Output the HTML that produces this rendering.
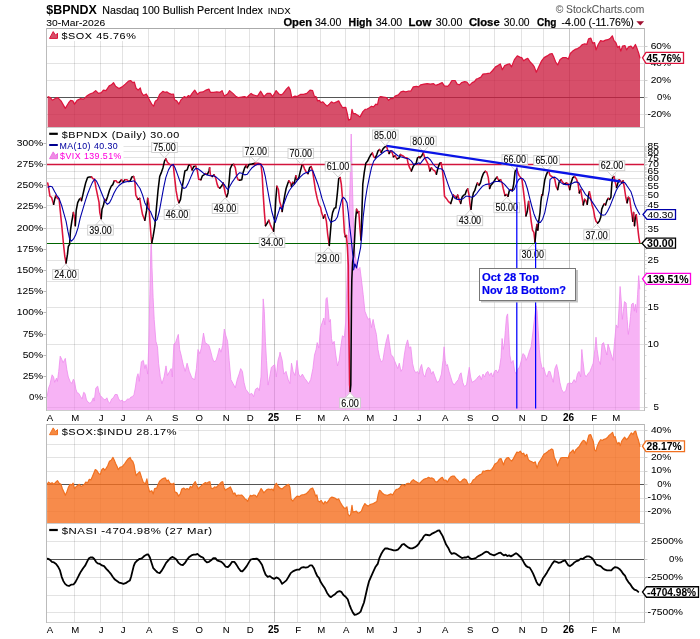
<!DOCTYPE html>
<html><head><meta charset="utf-8"><title>$BPNDX</title>
<style>html,body{margin:0;padding:0;background:#fff}svg{display:block;will-change:transform}</style></head>
<body>
<svg width="700" height="639" viewBox="0 0 700 639" font-family="Liberation Sans, sans-serif">
<rect width="700" height="639" fill="#fff"/>
<text x="46.3" y="14.3" font-size="13.6" font-weight="bold" textLength="50.6" lengthAdjust="spacingAndGlyphs">$BPNDX</text>
<text x="102.3" y="14.3" font-size="11" font-weight="normal" fill="#000" stroke="#000" stroke-width="0.12" text-anchor="start" textLength="160.6" lengthAdjust="spacingAndGlyphs" >Nasdaq 100 Bullish Percent Index</text>
<text x="267.7" y="14.3" font-size="8.5" font-weight="normal" fill="#000" stroke="#000" stroke-width="0.04" text-anchor="start" textLength="23" lengthAdjust="spacingAndGlyphs" >INDX</text>
<text x="555.7" y="13" font-size="10.5" font-weight="normal" fill="#555" stroke="#555" stroke-width="0.04" text-anchor="start" textLength="88.7" lengthAdjust="spacingAndGlyphs" >© StockCharts.com</text>
<text x="46.3" y="25.7" font-size="9.7" font-weight="normal" fill="#000" stroke="#000" stroke-width="0.04" text-anchor="start" textLength="58.9" lengthAdjust="spacingAndGlyphs" >30-Mar-2026</text>
<text x="283.4" y="25.7" font-size="10.2" font-weight="bold" fill="#000" stroke="#000" stroke-width="0.25" text-anchor="start" textLength="28.6" lengthAdjust="spacingAndGlyphs" >Open</text>
<text x="314.9" y="25.7" font-size="10" font-weight="normal" fill="#000" stroke="#000" stroke-width="0.12" text-anchor="start" textLength="26.5" lengthAdjust="spacingAndGlyphs" >34.00</text>
<text x="348.6" y="25.7" font-size="10.2" font-weight="bold" fill="#000" stroke="#000" stroke-width="0.25" text-anchor="start" textLength="23.4" lengthAdjust="spacingAndGlyphs" >High</text>
<text x="375.7" y="25.7" font-size="10" font-weight="normal" fill="#000" stroke="#000" stroke-width="0.12" text-anchor="start" textLength="26.6" lengthAdjust="spacingAndGlyphs" >34.00</text>
<text x="408.6" y="25.7" font-size="10.2" font-weight="bold" fill="#000" stroke="#000" stroke-width="0.25" text-anchor="start" textLength="22.8" lengthAdjust="spacingAndGlyphs" >Low</text>
<text x="435.8" y="25.7" font-size="10" font-weight="normal" fill="#000" stroke="#000" stroke-width="0.12" text-anchor="start" textLength="26.6" lengthAdjust="spacingAndGlyphs" >30.00</text>
<text x="468.9" y="25.7" font-size="10.2" font-weight="bold" fill="#000" stroke="#000" stroke-width="0.25" text-anchor="start" textLength="30.8" lengthAdjust="spacingAndGlyphs" >Close</text>
<text x="503.8" y="25.7" font-size="10" font-weight="normal" fill="#000" stroke="#000" stroke-width="0.12" text-anchor="start" textLength="25.8" lengthAdjust="spacingAndGlyphs" >30.00</text>
<text x="536.9" y="25.7" font-size="10.2" font-weight="bold" fill="#000" stroke="#000" stroke-width="0.25" text-anchor="start" textLength="19.5" lengthAdjust="spacingAndGlyphs" >Chg</text>
<text x="561.6" y="25.7" font-size="10" font-weight="normal" fill="#000" stroke="#000" stroke-width="0.12" text-anchor="start" textLength="72.2" lengthAdjust="spacingAndGlyphs" >-4.00 (-11.76%)</text>
<polygon points="636.4,21.2 644.1,21.2 640.25,25.4" fill="#a01030"/>
<line x1="74.5" y1="28.5" x2="74.5" y2="127.5" stroke="rgba(0,0,0,0.11)" stroke-width="1"/>
<line x1="100.5" y1="28.5" x2="100.5" y2="127.5" stroke="rgba(0,0,0,0.11)" stroke-width="1"/>
<line x1="122.5" y1="28.5" x2="122.5" y2="127.5" stroke="rgba(0,0,0,0.11)" stroke-width="1"/>
<line x1="148.5" y1="28.5" x2="148.5" y2="127.5" stroke="rgba(0,0,0,0.11)" stroke-width="1"/>
<line x1="174.5" y1="28.5" x2="174.5" y2="127.5" stroke="rgba(0,0,0,0.11)" stroke-width="1"/>
<line x1="198.5" y1="28.5" x2="198.5" y2="127.5" stroke="rgba(0,0,0,0.11)" stroke-width="1"/>
<line x1="225.5" y1="28.5" x2="225.5" y2="127.5" stroke="rgba(0,0,0,0.11)" stroke-width="1"/>
<line x1="249.5" y1="28.5" x2="249.5" y2="127.5" stroke="rgba(0,0,0,0.11)" stroke-width="1"/>
<line x1="274.5" y1="28.5" x2="274.5" y2="127.5" stroke="rgba(0,0,0,0.22)" stroke-width="1"/>
<line x1="297.5" y1="28.5" x2="297.5" y2="127.5" stroke="rgba(0,0,0,0.11)" stroke-width="1"/>
<line x1="320.5" y1="28.5" x2="320.5" y2="127.5" stroke="rgba(0,0,0,0.11)" stroke-width="1"/>
<line x1="345.5" y1="28.5" x2="345.5" y2="127.5" stroke="rgba(0,0,0,0.11)" stroke-width="1"/>
<line x1="369.5" y1="28.5" x2="369.5" y2="127.5" stroke="rgba(0,0,0,0.11)" stroke-width="1"/>
<line x1="394.5" y1="28.5" x2="394.5" y2="127.5" stroke="rgba(0,0,0,0.11)" stroke-width="1"/>
<line x1="418.5" y1="28.5" x2="418.5" y2="127.5" stroke="rgba(0,0,0,0.11)" stroke-width="1"/>
<line x1="444.5" y1="28.5" x2="444.5" y2="127.5" stroke="rgba(0,0,0,0.11)" stroke-width="1"/>
<line x1="469.5" y1="28.5" x2="469.5" y2="127.5" stroke="rgba(0,0,0,0.11)" stroke-width="1"/>
<line x1="494.5" y1="28.5" x2="494.5" y2="127.5" stroke="rgba(0,0,0,0.11)" stroke-width="1"/>
<line x1="521.5" y1="28.5" x2="521.5" y2="127.5" stroke="rgba(0,0,0,0.11)" stroke-width="1"/>
<line x1="543.5" y1="28.5" x2="543.5" y2="127.5" stroke="rgba(0,0,0,0.11)" stroke-width="1"/>
<line x1="569.5" y1="28.5" x2="569.5" y2="127.5" stroke="rgba(0,0,0,0.22)" stroke-width="1"/>
<line x1="593.5" y1="28.5" x2="593.5" y2="127.5" stroke="rgba(0,0,0,0.11)" stroke-width="1"/>
<line x1="615.5" y1="28.5" x2="615.5" y2="127.5" stroke="rgba(0,0,0,0.11)" stroke-width="1"/>
<line x1="46.5" y1="46.5" x2="644.5" y2="46.5" stroke="rgba(0,0,0,0.11)" stroke-width="1"/>
<line x1="46.5" y1="63.5" x2="644.5" y2="63.5" stroke="rgba(0,0,0,0.11)" stroke-width="1"/>
<line x1="46.5" y1="80.5" x2="644.5" y2="80.5" stroke="rgba(0,0,0,0.11)" stroke-width="1"/>
<line x1="46.5" y1="114.5" x2="644.5" y2="114.5" stroke="rgba(0,0,0,0.11)" stroke-width="1"/>
<line x1="46.5" y1="97.5" x2="646.5" y2="97.5" stroke="#555" stroke-width="1"/>
<polygon points="47.7,127.0 47.7,96.6 50.3,97.6 52.4,100.2 55.6,98.3 57.8,97.6 61.0,100.9 65.3,108.4 68.5,103.0 70.6,100.4 72.8,100.9 74.5,104.1 77.1,100.4 80.3,98.7 83.5,99.1 86.7,96.1 89.9,94.0 93.1,92.7 95.7,90.6 98.5,93.4 101.3,92.7 103.4,90.1 106.0,90.6 109.2,85.9 111.4,84.8 113.5,82.6 115.6,86.3 118.9,88.6 122.1,86.9 125.3,84.1 128.5,81.1 130.6,80.5 132.8,82.6 134.3,82.0 136.0,88.0 138.1,90.1 140.3,88.0 141.4,92.3 143.5,95.5 146.3,94.0 147.8,96.6 149.9,100.9 152.1,104.7 153.6,106.2 155.3,101.3 157.4,99.8 159.6,94.4 162.8,91.4 164.9,92.3 167.1,91.9 169.2,93.4 171.4,94.4 173.5,94.0 174.6,99.8 176.7,100.9 178.9,104.1 181.0,99.8 184.2,96.6 186.4,97.6 188.5,95.5 190.0,96.6 192.1,93.4 194.7,90.1 197.5,94.4 199.6,92.3 202.9,91.9 206.1,90.1 208.9,89.1 210.4,92.3 213.6,92.3 216.8,91.9 220.0,92.3 222.1,90.6 224.3,96.1 227.5,94.0 229.6,90.6 232.9,93.4 236.1,96.6 238.2,97.6 241.4,97.0 244.6,96.6 246.8,97.6 248.9,95.5 251.1,93.4 253.2,94.9 255.4,95.5 257.5,96.1 260.7,91.2 263.9,96.6 267.1,93.4 270.4,93.4 272.5,96.6 274.6,93.4 276.1,90.6 278.9,94.0 281.1,94.9 283.2,93.4 286.4,89.1 288.6,86.9 290.3,90.1 291.8,97.6 295.0,96.1 297.1,96.6 300.4,94.4 303.6,94.4 306.8,93.4 310.0,90.1 312.6,90.6 314.3,96.1 316.4,97.0 317.5,100.9 319.6,100.4 320.7,102.6 322.9,101.9 325.0,104.1 327.1,106.2 329.3,104.1 331.4,101.9 333.6,103.0 334.0,103.0 336.6,101.9 338.7,100.9 340.4,104.1 342.6,107.7 345.8,107.3 347.3,113.7 348.6,120.1 350.7,119.1 352.0,109.4 353.3,113.7 355.4,113.7 358.0,115.4 360.1,116.9 362.9,111.6 365.1,109.4 367.2,109.0 369.4,107.7 371.5,106.2 373.6,106.9 375.8,104.1 377.5,104.7 379.0,97.6 380.7,96.6 383.3,97.0 386.5,97.6 388.6,100.4 390.8,98.3 392.9,98.7 395.1,96.1 398.3,94.9 400.9,91.9 403.6,91.2 405.8,91.9 407.9,91.2 410.7,91.2 413.3,86.9 416.5,86.3 418.6,86.9 420.8,84.8 424.0,84.1 427.2,83.7 430.4,84.1 433.6,83.7 435.8,85.4 439.0,84.1 442.2,82.6 444.4,85.9 447.6,86.3 449.7,84.1 451.9,80.5 455.1,80.5 457.2,84.1 459.4,84.8 461.5,82.6 464.7,81.6 466.9,82.0 469.4,85.4 472.2,82.6 474.4,81.6 476.5,79.0 478.0,78.5 480.9,77.1 482.9,74.1 486.5,73.7 490.1,73.2 492.6,70.5 495.5,66.9 497.9,65.6 500.3,63.9 502.3,69.8 504.7,65.6 507.6,64.4 509.6,63.9 511.5,66.9 514.4,59.6 517.3,55.9 519.8,57.1 521.7,57.6 523.7,60.8 526.1,59.1 527.8,58.4 530.2,62.0 532.6,64.4 534.3,66.9 536.3,72.2 538.7,66.9 541.6,60.8 544.1,57.6 547.2,55.9 549.6,54.2 552.1,53.5 553.8,57.1 555.7,62.0 557.7,64.9 560.1,59.6 563.0,57.6 565.9,57.6 568.3,59.1 570.3,53.5 572.7,51.1 575.1,49.4 577.6,48.6 580.0,46.9 582.4,44.5 584.9,43.8 586.8,44.5 588.5,38.9 590.9,38.2 592.6,43.1 594.6,42.6 596.0,49.9 598.2,44.5 600.6,40.6 603.1,41.4 605.5,40.1 607.9,39.7 610.4,38.2 612.3,35.8 614.0,40.6 615.9,42.6 617.6,47.4 619.3,46.2 620.8,51.1 622.5,46.2 624.9,45.5 626.6,49.9 628.6,46.9 631.0,46.2 632.9,48.6 635.4,44.5 637.1,48.6 638.8,53.5 640.0,58.4 640.0,127.0" fill="rgba(204,30,64,0.78)" stroke="none"/>
<polyline points="47.7,96.6 50.3,97.6 52.4,100.2 55.6,98.3 57.8,97.6 61.0,100.9 65.3,108.4 68.5,103.0 70.6,100.4 72.8,100.9 74.5,104.1 77.1,100.4 80.3,98.7 83.5,99.1 86.7,96.1 89.9,94.0 93.1,92.7 95.7,90.6 98.5,93.4 101.3,92.7 103.4,90.1 106.0,90.6 109.2,85.9 111.4,84.8 113.5,82.6 115.6,86.3 118.9,88.6 122.1,86.9 125.3,84.1 128.5,81.1 130.6,80.5 132.8,82.6 134.3,82.0 136.0,88.0 138.1,90.1 140.3,88.0 141.4,92.3 143.5,95.5 146.3,94.0 147.8,96.6 149.9,100.9 152.1,104.7 153.6,106.2 155.3,101.3 157.4,99.8 159.6,94.4 162.8,91.4 164.9,92.3 167.1,91.9 169.2,93.4 171.4,94.4 173.5,94.0 174.6,99.8 176.7,100.9 178.9,104.1 181.0,99.8 184.2,96.6 186.4,97.6 188.5,95.5 190.0,96.6 192.1,93.4 194.7,90.1 197.5,94.4 199.6,92.3 202.9,91.9 206.1,90.1 208.9,89.1 210.4,92.3 213.6,92.3 216.8,91.9 220.0,92.3 222.1,90.6 224.3,96.1 227.5,94.0 229.6,90.6 232.9,93.4 236.1,96.6 238.2,97.6 241.4,97.0 244.6,96.6 246.8,97.6 248.9,95.5 251.1,93.4 253.2,94.9 255.4,95.5 257.5,96.1 260.7,91.2 263.9,96.6 267.1,93.4 270.4,93.4 272.5,96.6 274.6,93.4 276.1,90.6 278.9,94.0 281.1,94.9 283.2,93.4 286.4,89.1 288.6,86.9 290.3,90.1 291.8,97.6 295.0,96.1 297.1,96.6 300.4,94.4 303.6,94.4 306.8,93.4 310.0,90.1 312.6,90.6 314.3,96.1 316.4,97.0 317.5,100.9 319.6,100.4 320.7,102.6 322.9,101.9 325.0,104.1 327.1,106.2 329.3,104.1 331.4,101.9 333.6,103.0 334.0,103.0 336.6,101.9 338.7,100.9 340.4,104.1 342.6,107.7 345.8,107.3 347.3,113.7 348.6,120.1 350.7,119.1 352.0,109.4 353.3,113.7 355.4,113.7 358.0,115.4 360.1,116.9 362.9,111.6 365.1,109.4 367.2,109.0 369.4,107.7 371.5,106.2 373.6,106.9 375.8,104.1 377.5,104.7 379.0,97.6 380.7,96.6 383.3,97.0 386.5,97.6 388.6,100.4 390.8,98.3 392.9,98.7 395.1,96.1 398.3,94.9 400.9,91.9 403.6,91.2 405.8,91.9 407.9,91.2 410.7,91.2 413.3,86.9 416.5,86.3 418.6,86.9 420.8,84.8 424.0,84.1 427.2,83.7 430.4,84.1 433.6,83.7 435.8,85.4 439.0,84.1 442.2,82.6 444.4,85.9 447.6,86.3 449.7,84.1 451.9,80.5 455.1,80.5 457.2,84.1 459.4,84.8 461.5,82.6 464.7,81.6 466.9,82.0 469.4,85.4 472.2,82.6 474.4,81.6 476.5,79.0 478.0,78.5 480.9,77.1 482.9,74.1 486.5,73.7 490.1,73.2 492.6,70.5 495.5,66.9 497.9,65.6 500.3,63.9 502.3,69.8 504.7,65.6 507.6,64.4 509.6,63.9 511.5,66.9 514.4,59.6 517.3,55.9 519.8,57.1 521.7,57.6 523.7,60.8 526.1,59.1 527.8,58.4 530.2,62.0 532.6,64.4 534.3,66.9 536.3,72.2 538.7,66.9 541.6,60.8 544.1,57.6 547.2,55.9 549.6,54.2 552.1,53.5 553.8,57.1 555.7,62.0 557.7,64.9 560.1,59.6 563.0,57.6 565.9,57.6 568.3,59.1 570.3,53.5 572.7,51.1 575.1,49.4 577.6,48.6 580.0,46.9 582.4,44.5 584.9,43.8 586.8,44.5 588.5,38.9 590.9,38.2 592.6,43.1 594.6,42.6 596.0,49.9 598.2,44.5 600.6,40.6 603.1,41.4 605.5,40.1 607.9,39.7 610.4,38.2 612.3,35.8 614.0,40.6 615.9,42.6 617.6,47.4 619.3,46.2 620.8,51.1 622.5,46.2 624.9,45.5 626.6,49.9 628.6,46.9 631.0,46.2 632.9,48.6 635.4,44.5 637.1,48.6 638.8,53.5 640.0,58.4" fill="none" stroke="#dc143c" stroke-width="1.2" stroke-linejoin="round"/>
<rect x="47" y="29" width="91" height="12" fill="#fff"/>
<line x1="46.0" y1="28.5" x2="645.0" y2="28.5" stroke="#aaa" stroke-width="1"/>
<line x1="46.0" y1="127.5" x2="645.0" y2="127.5" stroke="#ccc" stroke-width="1"/>
<line x1="46.5" y1="28.0" x2="46.5" y2="128.0" stroke="#bbb" stroke-width="1"/>
<line x1="644.5" y1="28.0" x2="644.5" y2="128.0" stroke="#bbb" stroke-width="1"/>
<polygon points="49.5,38.4 53.2,31.6 55.5,35.2 57.5,33.2 57.5,38.4" fill="#d6506a" stroke="#dc143c" stroke-width="1" stroke-linejoin="round"/>
<text x="61.4" y="39.1" font-size="9.8" font-weight="normal" fill="#000" stroke="#000" stroke-width="0.04" text-anchor="start" textLength="75" lengthAdjust="spacingAndGlyphs" letter-spacing="0.5" >$SOX 45.76%</text>
<text x="671" y="48.9" font-size="9.4" font-weight="normal" fill="#000" stroke="#000" stroke-width="0.04" text-anchor="end" textLength="20.3" lengthAdjust="spacingAndGlyphs" >60%</text>
<text x="671" y="82.9" font-size="9.4" font-weight="normal" fill="#000" stroke="#000" stroke-width="0.04" text-anchor="end" textLength="20.3" lengthAdjust="spacingAndGlyphs" >20%</text>
<text x="671" y="99.9" font-size="9.4" font-weight="normal" fill="#000" stroke="#000" stroke-width="0.04" text-anchor="end" textLength="13.9" lengthAdjust="spacingAndGlyphs" >0%</text>
<text x="671" y="116.9" font-size="9.4" font-weight="normal" fill="#000" stroke="#000" stroke-width="0.04" text-anchor="end" textLength="23.6" lengthAdjust="spacingAndGlyphs" >-20%</text>
<line x1="644.5" y1="46.5" x2="647.5" y2="46.5" stroke="#ccc" stroke-width="1"/>
<line x1="644.5" y1="63.5" x2="647.5" y2="63.5" stroke="#ccc" stroke-width="1"/>
<line x1="644.5" y1="80.5" x2="647.5" y2="80.5" stroke="#ccc" stroke-width="1"/>
<line x1="644.5" y1="97.5" x2="647.5" y2="97.5" stroke="#ccc" stroke-width="1"/>
<line x1="644.5" y1="114.5" x2="647.5" y2="114.5" stroke="#ccc" stroke-width="1"/>
<text x="671" y="65.9" font-size="9.4" font-weight="normal" fill="#000" stroke="#000" stroke-width="0.04" text-anchor="end" textLength="20.3" lengthAdjust="spacingAndGlyphs" >40%</text>
<polygon points="642.5,57.8 646,52.3 683.5,52.3 683.5,63.3 646,63.3" fill="#fff" stroke="#dc143c" stroke-width="1.3"/>
<text x="646.6" y="61.507999999999996" font-size="10.3" font-weight="bold" fill="#000" stroke="#000" stroke-width="0.04" text-anchor="start" textLength="34.5" lengthAdjust="spacingAndGlyphs" >45.76%</text>
<line x1="74.5" y1="127.5" x2="74.5" y2="410.5" stroke="rgba(0,0,0,0.11)" stroke-width="1"/>
<line x1="100.5" y1="127.5" x2="100.5" y2="410.5" stroke="rgba(0,0,0,0.11)" stroke-width="1"/>
<line x1="122.5" y1="127.5" x2="122.5" y2="410.5" stroke="rgba(0,0,0,0.11)" stroke-width="1"/>
<line x1="148.5" y1="127.5" x2="148.5" y2="410.5" stroke="rgba(0,0,0,0.11)" stroke-width="1"/>
<line x1="174.5" y1="127.5" x2="174.5" y2="410.5" stroke="rgba(0,0,0,0.11)" stroke-width="1"/>
<line x1="198.5" y1="127.5" x2="198.5" y2="410.5" stroke="rgba(0,0,0,0.11)" stroke-width="1"/>
<line x1="225.5" y1="127.5" x2="225.5" y2="410.5" stroke="rgba(0,0,0,0.11)" stroke-width="1"/>
<line x1="249.5" y1="127.5" x2="249.5" y2="410.5" stroke="rgba(0,0,0,0.11)" stroke-width="1"/>
<line x1="274.5" y1="127.5" x2="274.5" y2="410.5" stroke="rgba(0,0,0,0.22)" stroke-width="1"/>
<line x1="297.5" y1="127.5" x2="297.5" y2="410.5" stroke="rgba(0,0,0,0.11)" stroke-width="1"/>
<line x1="320.5" y1="127.5" x2="320.5" y2="410.5" stroke="rgba(0,0,0,0.11)" stroke-width="1"/>
<line x1="345.5" y1="127.5" x2="345.5" y2="410.5" stroke="rgba(0,0,0,0.11)" stroke-width="1"/>
<line x1="369.5" y1="127.5" x2="369.5" y2="410.5" stroke="rgba(0,0,0,0.11)" stroke-width="1"/>
<line x1="394.5" y1="127.5" x2="394.5" y2="410.5" stroke="rgba(0,0,0,0.11)" stroke-width="1"/>
<line x1="418.5" y1="127.5" x2="418.5" y2="410.5" stroke="rgba(0,0,0,0.11)" stroke-width="1"/>
<line x1="444.5" y1="127.5" x2="444.5" y2="410.5" stroke="rgba(0,0,0,0.11)" stroke-width="1"/>
<line x1="469.5" y1="127.5" x2="469.5" y2="410.5" stroke="rgba(0,0,0,0.11)" stroke-width="1"/>
<line x1="494.5" y1="127.5" x2="494.5" y2="410.5" stroke="rgba(0,0,0,0.11)" stroke-width="1"/>
<line x1="521.5" y1="127.5" x2="521.5" y2="410.5" stroke="rgba(0,0,0,0.11)" stroke-width="1"/>
<line x1="543.5" y1="127.5" x2="543.5" y2="410.5" stroke="rgba(0,0,0,0.11)" stroke-width="1"/>
<line x1="569.5" y1="127.5" x2="569.5" y2="410.5" stroke="rgba(0,0,0,0.22)" stroke-width="1"/>
<line x1="593.5" y1="127.5" x2="593.5" y2="410.5" stroke="rgba(0,0,0,0.11)" stroke-width="1"/>
<line x1="615.5" y1="127.5" x2="615.5" y2="410.5" stroke="rgba(0,0,0,0.11)" stroke-width="1"/>
<line x1="46.5" y1="281.5" x2="644.5" y2="281.5" stroke="rgba(0,0,0,0.11)" stroke-width="1"/>
<line x1="46.5" y1="260.5" x2="644.5" y2="260.5" stroke="rgba(0,0,0,0.11)" stroke-width="1"/>
<line x1="46.5" y1="243.5" x2="644.5" y2="243.5" stroke="rgba(0,0,0,0.11)" stroke-width="1"/>
<line x1="46.5" y1="228.5" x2="644.5" y2="228.5" stroke="rgba(0,0,0,0.11)" stroke-width="1"/>
<line x1="46.5" y1="216.5" x2="644.5" y2="216.5" stroke="rgba(0,0,0,0.11)" stroke-width="1"/>
<line x1="46.5" y1="205.5" x2="644.5" y2="205.5" stroke="rgba(0,0,0,0.11)" stroke-width="1"/>
<line x1="46.5" y1="195.5" x2="644.5" y2="195.5" stroke="rgba(0,0,0,0.11)" stroke-width="1"/>
<line x1="46.5" y1="186.5" x2="644.5" y2="186.5" stroke="rgba(0,0,0,0.11)" stroke-width="1"/>
<line x1="46.5" y1="178.5" x2="644.5" y2="178.5" stroke="rgba(0,0,0,0.11)" stroke-width="1"/>
<line x1="46.5" y1="171.5" x2="644.5" y2="171.5" stroke="rgba(0,0,0,0.11)" stroke-width="1"/>
<line x1="46.5" y1="164.5" x2="644.5" y2="164.5" stroke="rgba(0,0,0,0.11)" stroke-width="1"/>
<line x1="46.5" y1="157.5" x2="644.5" y2="157.5" stroke="rgba(0,0,0,0.11)" stroke-width="1"/>
<line x1="46.5" y1="151.5" x2="644.5" y2="151.5" stroke="rgba(0,0,0,0.11)" stroke-width="1"/>
<line x1="46.5" y1="146.5" x2="644.5" y2="146.5" stroke="rgba(0,0,0,0.11)" stroke-width="1"/>
<line x1="46.5" y1="307.5" x2="644.5" y2="307.5" stroke="rgba(0,0,0,0.11)" stroke-width="1"/>
<line x1="46.5" y1="344.5" x2="644.5" y2="344.5" stroke="rgba(0,0,0,0.11)" stroke-width="1"/>
<line x1="46.5" y1="407.5" x2="644.5" y2="407.5" stroke="rgba(0,0,0,0.11)" stroke-width="1"/>
<polygon points="47.1,410.0 47.1,396.7 48.6,387.9 49.9,384.6 52.1,374.8 53.6,377.0 54.7,382.4 56.5,378.1 57.4,381.4 58.7,371.5 60.2,356.2 61.8,359.4 63.1,362.7 65.3,358.4 66.8,369.3 68.3,377.0 70.1,381.4 71.8,383.5 73.4,379.2 74.5,381.4 75.8,389.0 77.1,392.7 78.8,393.4 80.6,396.7 82.1,398.9 83.7,392.3 85.0,393.4 86.5,400.0 88.0,402.1 89.8,403.2 91.5,402.1 93.3,397.8 94.2,401.1 95.9,387.9 97.7,386.2 99.0,392.3 100.3,395.6 101.8,397.1 103.4,398.9 105.1,400.0 106.9,397.8 108.4,402.1 109.9,403.2 111.7,398.9 113.4,397.8 115.0,394.5 117.2,394.5 118.7,398.9 120.4,401.1 122.2,400.0 123.7,402.1 125.9,401.1 127.5,398.9 129.2,399.3 130.9,397.1 132.5,396.7 134.0,394.5 135.3,387.9 136.9,377.0 138.0,373.7 139.3,381.4 140.0,374.1 141.4,361.8 143.3,360.4 144.9,368.6 146.0,364.5 147.7,374.1 148.8,344.0 149.8,294.7 150.9,245.5 151.4,243.3 152.0,267.4 153.1,297.5 154.2,319.4 155.9,341.3 157.5,346.8 158.6,363.2 160.3,376.9 161.9,383.7 164.1,376.9 166.0,365.9 167.4,375.5 169.6,371.4 171.2,368.6 172.3,376.9 173.9,344.0 175.6,342.6 176.9,338.5 178.3,334.4 179.7,349.5 181.1,355.0 183.2,364.5 185.2,371.4 187.1,363.2 189.3,371.4 192.0,378.2 194.7,379.6 196.4,368.6 198.0,349.5 199.7,353.6 201.3,348.1 203.5,333.1 205.2,342.6 207.1,344.0 209.0,345.4 210.6,350.9 212.3,357.7 213.9,361.8 216.1,360.4 217.7,355.0 219.4,348.1 221.0,352.2 222.7,345.4 224.3,329.0 225.9,335.8 227.6,341.3 229.2,360.4 230.9,379.6 233.1,383.7 235.3,387.8 237.2,379.6 239.1,374.1 240.7,368.6 242.4,371.4 244.0,382.3 245.7,389.2 247.8,391.9 249.5,394.6 251.7,393.3 253.6,396.6 255.5,389.2 257.7,387.8 259.3,390.6 261.0,376.9 262.1,344.0 263.2,298.9 264.3,311.2 265.4,341.3 266.5,360.4 268.1,385.1 269.7,376.9 271.4,367.3 273.0,365.9 274.7,364.5 276.3,376.9 278.0,360.4 279.6,355.0 280.0,352.2 282.2,360.4 283.8,374.1 286.0,371.4 288.2,379.6 289.9,383.7 291.5,363.2 293.1,371.4 295.1,375.5 297.0,360.4 298.6,374.1 300.5,376.9 302.4,374.1 304.6,378.2 306.8,381.0 308.5,383.7 310.7,379.6 312.9,368.6 314.5,355.0 316.1,349.5 317.2,342.6 318.9,348.1 320.5,327.6 322.4,322.1 323.8,318.0 324.9,324.9 326.0,298.9 327.1,297.5 328.2,308.4 329.3,322.1 330.4,319.4 331.5,338.5 332.6,344.0 334.2,341.3 335.8,355.0 337.5,365.9 339.1,360.4 340.8,346.8 342.4,335.8 344.3,337.2 345.7,322.1 350.2,180.0 351.2,134.0 352.3,180.0 353.9,240.0 355.3,256.4 358.0,270.1 359.9,267.4 361.6,281.1 363.2,294.7 364.9,311.2 366.5,315.3 368.1,319.4 369.8,318.0 371.4,327.6 373.1,319.4 374.7,327.6 376.4,334.4 378.0,349.5 379.6,357.7 381.3,361.8 382.9,360.4 384.6,349.5 386.2,341.3 388.1,334.4 389.5,344.0 391.1,355.0 392.8,356.3 394.4,360.4 396.1,364.5 397.7,368.6 399.3,363.2 401.0,371.4 402.6,368.6 404.3,355.0 405.9,345.4 407.6,339.9 409.2,348.1 410.8,346.8 412.5,363.2 414.1,370.0 415.8,372.8 417.4,371.4 419.1,374.1 420.0,368.6 421.6,364.5 423.3,374.1 424.9,376.9 426.6,370.0 428.2,367.3 429.9,368.6 431.5,374.1 433.1,371.4 435.1,376.9 437.0,382.3 439.2,381.0 441.4,374.1 443.0,360.4 444.1,346.8 445.2,360.4 446.3,365.9 447.4,364.5 449.0,371.4 450.7,376.9 452.3,382.3 454.2,385.1 456.1,382.3 458.3,379.6 460.0,374.1 461.1,372.8 462.7,382.3 464.3,386.4 466.5,385.1 468.2,374.1 469.3,367.3 470.6,376.9 472.0,382.3 474.2,381.0 476.1,379.6 478.0,376.9 479.7,375.5 481.3,379.6 483.0,374.1 484.6,376.9 486.2,372.8 487.9,371.4 489.5,375.5 491.2,372.8 492.8,376.9 494.4,371.4 496.1,370.0 497.7,372.8 499.4,368.6 501.0,357.7 502.1,338.5 503.2,349.5 504.3,344.0 505.4,330.3 506.5,316.6 507.6,313.9 508.7,333.1 509.8,355.0 511.4,363.2 513.1,360.4 514.7,371.4 516.4,374.1 518.0,368.6 519.6,367.3 521.3,360.4 522.9,353.6 524.6,355.0 526.2,360.4 527.9,356.3 529.5,350.9 531.1,346.8 532.8,333.1 534.4,319.4 536.1,305.7 537.1,311.2 538.2,330.3 539.3,349.5 540.4,360.4 542.1,368.6 543.7,367.3 545.4,374.1 547.0,376.9 548.6,371.4 550.0,371.4 551.6,376.9 553.3,382.3 554.9,368.6 556.6,364.5 558.2,371.4 559.9,382.3 561.5,389.2 563.7,392.7 565.9,390.6 567.5,383.7 569.7,382.9 571.9,383.7 574.1,379.6 575.7,382.3 577.4,374.1 579.0,371.4 580.7,376.9 581.8,349.5 582.9,360.4 584.5,374.1 586.1,376.9 587.8,374.1 590.0,371.4 591.6,367.3 593.2,363.2 594.9,349.5 596.0,337.2 597.1,349.5 598.7,360.4 600.4,364.5 602.0,344.0 603.6,342.6 605.3,349.5 606.9,355.0 608.0,344.0 609.7,349.5 611.3,355.0 613.0,360.4 614.6,341.3 616.2,324.9 617.9,327.6 619.0,308.4 620.1,286.5 621.2,300.2 622.3,319.4 623.4,311.2 624.5,301.6 626.1,303.0 627.2,319.4 628.3,334.4 629.4,327.6 630.5,316.6 631.6,304.3 633.2,303.0 634.3,311.2 635.4,304.3 636.5,312.5 637.6,294.7 638.7,275.6 639.8,289.3 639.8,410.0" fill="rgba(240,120,238,0.56)" stroke="none"/>
<polyline points="47.1,396.7 48.6,387.9 49.9,384.6 52.1,374.8 53.6,377.0 54.7,382.4 56.5,378.1 57.4,381.4 58.7,371.5 60.2,356.2 61.8,359.4 63.1,362.7 65.3,358.4 66.8,369.3 68.3,377.0 70.1,381.4 71.8,383.5 73.4,379.2 74.5,381.4 75.8,389.0 77.1,392.7 78.8,393.4 80.6,396.7 82.1,398.9 83.7,392.3 85.0,393.4 86.5,400.0 88.0,402.1 89.8,403.2 91.5,402.1 93.3,397.8 94.2,401.1 95.9,387.9 97.7,386.2 99.0,392.3 100.3,395.6 101.8,397.1 103.4,398.9 105.1,400.0 106.9,397.8 108.4,402.1 109.9,403.2 111.7,398.9 113.4,397.8 115.0,394.5 117.2,394.5 118.7,398.9 120.4,401.1 122.2,400.0 123.7,402.1 125.9,401.1 127.5,398.9 129.2,399.3 130.9,397.1 132.5,396.7 134.0,394.5 135.3,387.9 136.9,377.0 138.0,373.7 139.3,381.4 140.0,374.1 141.4,361.8 143.3,360.4 144.9,368.6 146.0,364.5 147.7,374.1 148.8,344.0 149.8,294.7 150.9,245.5 151.4,243.3 152.0,267.4 153.1,297.5 154.2,319.4 155.9,341.3 157.5,346.8 158.6,363.2 160.3,376.9 161.9,383.7 164.1,376.9 166.0,365.9 167.4,375.5 169.6,371.4 171.2,368.6 172.3,376.9 173.9,344.0 175.6,342.6 176.9,338.5 178.3,334.4 179.7,349.5 181.1,355.0 183.2,364.5 185.2,371.4 187.1,363.2 189.3,371.4 192.0,378.2 194.7,379.6 196.4,368.6 198.0,349.5 199.7,353.6 201.3,348.1 203.5,333.1 205.2,342.6 207.1,344.0 209.0,345.4 210.6,350.9 212.3,357.7 213.9,361.8 216.1,360.4 217.7,355.0 219.4,348.1 221.0,352.2 222.7,345.4 224.3,329.0 225.9,335.8 227.6,341.3 229.2,360.4 230.9,379.6 233.1,383.7 235.3,387.8 237.2,379.6 239.1,374.1 240.7,368.6 242.4,371.4 244.0,382.3 245.7,389.2 247.8,391.9 249.5,394.6 251.7,393.3 253.6,396.6 255.5,389.2 257.7,387.8 259.3,390.6 261.0,376.9 262.1,344.0 263.2,298.9 264.3,311.2 265.4,341.3 266.5,360.4 268.1,385.1 269.7,376.9 271.4,367.3 273.0,365.9 274.7,364.5 276.3,376.9 278.0,360.4 279.6,355.0 280.0,352.2 282.2,360.4 283.8,374.1 286.0,371.4 288.2,379.6 289.9,383.7 291.5,363.2 293.1,371.4 295.1,375.5 297.0,360.4 298.6,374.1 300.5,376.9 302.4,374.1 304.6,378.2 306.8,381.0 308.5,383.7 310.7,379.6 312.9,368.6 314.5,355.0 316.1,349.5 317.2,342.6 318.9,348.1 320.5,327.6 322.4,322.1 323.8,318.0 324.9,324.9 326.0,298.9 327.1,297.5 328.2,308.4 329.3,322.1 330.4,319.4 331.5,338.5 332.6,344.0 334.2,341.3 335.8,355.0 337.5,365.9 339.1,360.4 340.8,346.8 342.4,335.8 344.3,337.2 345.7,322.1 350.2,180.0 351.2,134.0 352.3,180.0 353.9,240.0 355.3,256.4 358.0,270.1 359.9,267.4 361.6,281.1 363.2,294.7 364.9,311.2 366.5,315.3 368.1,319.4 369.8,318.0 371.4,327.6 373.1,319.4 374.7,327.6 376.4,334.4 378.0,349.5 379.6,357.7 381.3,361.8 382.9,360.4 384.6,349.5 386.2,341.3 388.1,334.4 389.5,344.0 391.1,355.0 392.8,356.3 394.4,360.4 396.1,364.5 397.7,368.6 399.3,363.2 401.0,371.4 402.6,368.6 404.3,355.0 405.9,345.4 407.6,339.9 409.2,348.1 410.8,346.8 412.5,363.2 414.1,370.0 415.8,372.8 417.4,371.4 419.1,374.1 420.0,368.6 421.6,364.5 423.3,374.1 424.9,376.9 426.6,370.0 428.2,367.3 429.9,368.6 431.5,374.1 433.1,371.4 435.1,376.9 437.0,382.3 439.2,381.0 441.4,374.1 443.0,360.4 444.1,346.8 445.2,360.4 446.3,365.9 447.4,364.5 449.0,371.4 450.7,376.9 452.3,382.3 454.2,385.1 456.1,382.3 458.3,379.6 460.0,374.1 461.1,372.8 462.7,382.3 464.3,386.4 466.5,385.1 468.2,374.1 469.3,367.3 470.6,376.9 472.0,382.3 474.2,381.0 476.1,379.6 478.0,376.9 479.7,375.5 481.3,379.6 483.0,374.1 484.6,376.9 486.2,372.8 487.9,371.4 489.5,375.5 491.2,372.8 492.8,376.9 494.4,371.4 496.1,370.0 497.7,372.8 499.4,368.6 501.0,357.7 502.1,338.5 503.2,349.5 504.3,344.0 505.4,330.3 506.5,316.6 507.6,313.9 508.7,333.1 509.8,355.0 511.4,363.2 513.1,360.4 514.7,371.4 516.4,374.1 518.0,368.6 519.6,367.3 521.3,360.4 522.9,353.6 524.6,355.0 526.2,360.4 527.9,356.3 529.5,350.9 531.1,346.8 532.8,333.1 534.4,319.4 536.1,305.7 537.1,311.2 538.2,330.3 539.3,349.5 540.4,360.4 542.1,368.6 543.7,367.3 545.4,374.1 547.0,376.9 548.6,371.4 550.0,371.4 551.6,376.9 553.3,382.3 554.9,368.6 556.6,364.5 558.2,371.4 559.9,382.3 561.5,389.2 563.7,392.7 565.9,390.6 567.5,383.7 569.7,382.9 571.9,383.7 574.1,379.6 575.7,382.3 577.4,374.1 579.0,371.4 580.7,376.9 581.8,349.5 582.9,360.4 584.5,374.1 586.1,376.9 587.8,374.1 590.0,371.4 591.6,367.3 593.2,363.2 594.9,349.5 596.0,337.2 597.1,349.5 598.7,360.4 600.4,364.5 602.0,344.0 603.6,342.6 605.3,349.5 606.9,355.0 608.0,344.0 609.7,349.5 611.3,355.0 613.0,360.4 614.6,341.3 616.2,324.9 617.9,327.6 619.0,308.4 620.1,286.5 621.2,300.2 622.3,319.4 623.4,311.2 624.5,301.6 626.1,303.0 627.2,319.4 628.3,334.4 629.4,327.6 630.5,316.6 631.6,304.3 633.2,303.0 634.3,311.2 635.4,304.3 636.5,312.5 637.6,294.7 638.7,275.6 639.8,289.3" fill="none" stroke="#ee8cee" stroke-width="0.8" stroke-linejoin="round"/>
<line x1="46.5" y1="164.5" x2="644.5" y2="164.5" stroke="#d2143c" stroke-width="1.3"/>
<line x1="46.5" y1="243.5" x2="644.5" y2="243.5" stroke="#006400" stroke-width="1.2"/>
<clipPath id="c2"><rect x="47" y="128" width="597" height="282"/></clipPath>
<g clip-path="url(#c2)">
<polyline points="47.7,183.0 48.6,187.4 49.9,196.2 51.5,197.3 53.6,204.3" fill="none" stroke="#dc143c" stroke-width="1.55" stroke-linejoin="round" stroke-linecap="round"/>
<polyline points="53.6,204.3 54.7,199.4 55.8,195.5" fill="none" stroke="#000" stroke-width="1.55" stroke-linejoin="round" stroke-linecap="round"/>
<polyline points="55.8,195.5 57.4,198.4 59.1,199.0 60.2,210.4 62.0,227.9 63.5,244.3 64.8,256.4 66.1,263.0" fill="none" stroke="#dc143c" stroke-width="1.55" stroke-linejoin="round" stroke-linecap="round"/>
<polyline points="66.1,263.0 67.5,254.2 68.3,246.5 69.6,244.3 70.5,230.1 71.8,221.3 73.4,212.6" fill="none" stroke="#000" stroke-width="1.55" stroke-linejoin="round" stroke-linecap="round"/>
<polyline points="73.4,212.6 74.5,217.0 75.3,225.7" fill="none" stroke="#dc143c" stroke-width="1.55" stroke-linejoin="round" stroke-linecap="round"/>
<polyline points="75.3,225.7 76.2,210.4 77.7,202.7 79.3,199.4 80.6,198.4" fill="none" stroke="#000" stroke-width="1.55" stroke-linejoin="round" stroke-linecap="round"/>
<polyline points="80.6,198.4 81.5,200.6" fill="none" stroke="#dc143c" stroke-width="1.55" stroke-linejoin="round" stroke-linecap="round"/>
<polyline points="81.5,200.6 82.8,195.1 84.3,188.5 85.8,182.4 87.6,177.6 89.3,177.1 91.5,176.9" fill="none" stroke="#000" stroke-width="1.55" stroke-linejoin="round" stroke-linecap="round"/>
<polyline points="91.5,176.9 93.1,178.7 94.6,179.3 95.9,187.4 97.5,195.1 99.0,202.1 99.8,212.6 101.2,218.7" fill="none" stroke="#dc143c" stroke-width="1.55" stroke-linejoin="round" stroke-linecap="round"/>
<polyline points="101.2,218.7 102.0,209.3 103.4,205.6 104.7,199.4" fill="none" stroke="#000" stroke-width="1.55" stroke-linejoin="round" stroke-linecap="round"/>
<polyline points="104.7,199.4 106.2,200.6" fill="none" stroke="#dc143c" stroke-width="1.55" stroke-linejoin="round" stroke-linecap="round"/>
<polyline points="106.2,200.6 107.7,196.2 109.5,190.3 111.2,186.3 112.8,184.6 114.3,180.8" fill="none" stroke="#000" stroke-width="1.55" stroke-linejoin="round" stroke-linecap="round"/>
<polyline points="114.3,180.8 116.1,180.8 117.2,182.4 119.3,182.4" fill="none" stroke="#dc143c" stroke-width="1.55" stroke-linejoin="round" stroke-linecap="round"/>
<polyline points="119.3,182.4 121.5,179.7" fill="none" stroke="#000" stroke-width="1.55" stroke-linejoin="round" stroke-linecap="round"/>
<polyline points="121.5,179.7 123.1,182.4" fill="none" stroke="#dc143c" stroke-width="1.55" stroke-linejoin="round" stroke-linecap="round"/>
<polyline points="123.1,182.4 124.8,179.7" fill="none" stroke="#000" stroke-width="1.55" stroke-linejoin="round" stroke-linecap="round"/>
<polyline points="124.8,179.7 127.0,179.7 128.8,181.5" fill="none" stroke="#dc143c" stroke-width="1.55" stroke-linejoin="round" stroke-linecap="round"/>
<polyline points="128.8,181.5 130.3,180.8 131.8,177.1 133.6,176.5" fill="none" stroke="#000" stroke-width="1.55" stroke-linejoin="round" stroke-linecap="round"/>
<polyline points="133.6,176.5 134.7,179.7 135.8,195.1 138.0,199.4" fill="none" stroke="#dc143c" stroke-width="1.55" stroke-linejoin="round" stroke-linecap="round"/>
<polyline points="138.0,199.4 139.7,198.4" fill="none" stroke="#000" stroke-width="1.55" stroke-linejoin="round" stroke-linecap="round"/>
<polyline points="139.7,198.4 141.1,207.1 142.6,214.8 144.8,220.3" fill="none" stroke="#dc143c" stroke-width="1.55" stroke-linejoin="round" stroke-linecap="round"/>
<polyline points="144.8,220.3 146.6,210.4 147.7,198.4" fill="none" stroke="#000" stroke-width="1.55" stroke-linejoin="round" stroke-linecap="round"/>
<polyline points="147.7,198.4 148.8,203.8 149.8,219.2 150.9,234.5 151.8,242.8" fill="none" stroke="#dc143c" stroke-width="1.55" stroke-linejoin="round" stroke-linecap="round"/>
<polyline points="151.8,242.8 153.1,236.7 154.9,225.7 156.4,208.2 158.0,190.7 159.7,176.5 161.5,172.1 163.0,167.7 164.5,161.1 165.8,158.9" fill="none" stroke="#000" stroke-width="1.55" stroke-linejoin="round" stroke-linecap="round"/>
<polyline points="165.8,158.9 167.4,162.2 169.6,164.4 171.8,164.8 173.3,165.5 174.6,177.6 176.1,190.7 177.7,199.4 179.0,202.7" fill="none" stroke="#dc143c" stroke-width="1.55" stroke-linejoin="round" stroke-linecap="round"/>
<polyline points="179.0,202.7 180.5,199.4 182.0,188.5 183.8,177.6 184.9,171.0 187.1,169.9 188.6,165.5 190.4,164.8" fill="none" stroke="#000" stroke-width="1.55" stroke-linejoin="round" stroke-linecap="round"/>
<polyline points="190.4,164.8 192.1,169.9" fill="none" stroke="#dc143c" stroke-width="1.55" stroke-linejoin="round" stroke-linecap="round"/>
<polyline points="192.1,169.9 193.7,166.6 195.8,166.2" fill="none" stroke="#000" stroke-width="1.55" stroke-linejoin="round" stroke-linecap="round"/>
<polyline points="195.8,166.2 197.4,171.0 198.7,179.3 200.9,179.7" fill="none" stroke="#dc143c" stroke-width="1.55" stroke-linejoin="round" stroke-linecap="round"/>
<polyline points="200.9,179.7 202.4,175.8 203.9,174.9 205.7,173.6" fill="none" stroke="#000" stroke-width="1.55" stroke-linejoin="round" stroke-linecap="round"/>
<polyline points="205.7,173.6 207.4,174.3" fill="none" stroke="#dc143c" stroke-width="1.55" stroke-linejoin="round" stroke-linecap="round"/>
<polyline points="207.4,174.3 209.0,171.0 209.6,167.7" fill="none" stroke="#000" stroke-width="1.55" stroke-linejoin="round" stroke-linecap="round"/>
<polyline points="209.6,167.7 210.5,175.4 212.3,176.5" fill="none" stroke="#dc143c" stroke-width="1.55" stroke-linejoin="round" stroke-linecap="round"/>
<polyline points="212.3,176.5 214.0,174.9" fill="none" stroke="#000" stroke-width="1.55" stroke-linejoin="round" stroke-linecap="round"/>
<polyline points="214.0,174.9 215.6,177.6 217.1,184.1 218.4,187.4 219.9,188.1" fill="none" stroke="#dc143c" stroke-width="1.55" stroke-linejoin="round" stroke-linecap="round"/>
<polyline points="219.9,188.1 221.5,186.3 223.2,183.0" fill="none" stroke="#000" stroke-width="1.55" stroke-linejoin="round" stroke-linecap="round"/>
<polyline points="223.2,183.0 224.3,188.5 225.4,194.0 226.7,196.8" fill="none" stroke="#dc143c" stroke-width="1.55" stroke-linejoin="round" stroke-linecap="round"/>
<polyline points="226.7,196.8 228.0,192.9 229.3,179.7 230.2,168.8 232.0,164.8 233.7,164.4" fill="none" stroke="#000" stroke-width="1.55" stroke-linejoin="round" stroke-linecap="round"/>
<polyline points="233.7,164.4 235.3,167.7 236.8,176.5 238.1,179.7 239.6,180.2" fill="none" stroke="#dc143c" stroke-width="1.55" stroke-linejoin="round" stroke-linecap="round"/>
<polyline points="239.6,180.2 241.8,179.7 242.9,173.2 244.7,167.7 246.2,165.5" fill="none" stroke="#000" stroke-width="1.55" stroke-linejoin="round" stroke-linecap="round"/>
<polyline points="246.2,165.5 247.3,167.7" fill="none" stroke="#dc143c" stroke-width="1.55" stroke-linejoin="round" stroke-linecap="round"/>
<polyline points="247.3,167.7 249.1,164.4 251.7,164.0 255.0,163.3" fill="none" stroke="#000" stroke-width="1.55" stroke-linejoin="round" stroke-linecap="round"/>
<polyline points="255.0,163.3 258.2,163.3 260.9,164.0 262.2,175.4 263.1,192.9 264.4,212.6 265.5,225.7" fill="none" stroke="#dc143c" stroke-width="1.55" stroke-linejoin="round" stroke-linecap="round"/>
<polyline points="265.5,225.7 267.0,223.5 268.8,220.3" fill="none" stroke="#000" stroke-width="1.55" stroke-linejoin="round" stroke-linecap="round"/>
<polyline points="268.8,220.3 270.3,224.6 271.8,227.9 273.6,231.2" fill="none" stroke="#dc143c" stroke-width="1.55" stroke-linejoin="round" stroke-linecap="round"/>
<polyline points="273.6,231.2 274.9,217.0 275.8,199.4 276.9,186.3" fill="none" stroke="#000" stroke-width="1.55" stroke-linejoin="round" stroke-linecap="round"/>
<polyline points="276.9,186.3 278.4,189.6 279.7,201.6 281.1,206.0 282.2,211.5" fill="none" stroke="#dc143c" stroke-width="1.55" stroke-linejoin="round" stroke-linecap="round"/>
<polyline points="282.2,211.5 283.3,203.8 284.8,195.1 286.1,188.5 287.7,183.7 288.8,180.8" fill="none" stroke="#000" stroke-width="1.55" stroke-linejoin="round" stroke-linecap="round"/>
<polyline points="288.8,180.8 290.5,183.0 291.4,186.3" fill="none" stroke="#dc143c" stroke-width="1.55" stroke-linejoin="round" stroke-linecap="round"/>
<polyline points="291.4,186.3 292.7,182.4" fill="none" stroke="#000" stroke-width="1.55" stroke-linejoin="round" stroke-linecap="round"/>
<polyline points="292.7,182.4 294.2,183.7" fill="none" stroke="#dc143c" stroke-width="1.55" stroke-linejoin="round" stroke-linecap="round"/>
<polyline points="294.2,183.7 295.8,175.8" fill="none" stroke="#000" stroke-width="1.55" stroke-linejoin="round" stroke-linecap="round"/>
<polyline points="295.8,175.8 297.1,179.7" fill="none" stroke="#dc143c" stroke-width="1.55" stroke-linejoin="round" stroke-linecap="round"/>
<polyline points="297.1,179.7 298.6,178.7 300.1,172.1 301.9,165.5 303.0,164.8" fill="none" stroke="#000" stroke-width="1.55" stroke-linejoin="round" stroke-linecap="round"/>
<polyline points="303.0,164.8 304.5,168.8 306.3,172.1 308.0,173.6" fill="none" stroke="#dc143c" stroke-width="1.55" stroke-linejoin="round" stroke-linecap="round"/>
<polyline points="308.0,173.6 309.6,167.7 311.1,166.6" fill="none" stroke="#000" stroke-width="1.55" stroke-linejoin="round" stroke-linecap="round"/>
<polyline points="311.1,166.6 312.4,169.9 313.9,179.7 315.5,190.7 317.2,198.4 319.0,204.9 320.5,207.1 321.6,212.6 323.4,218.1" fill="none" stroke="#dc143c" stroke-width="1.55" stroke-linejoin="round" stroke-linecap="round"/>
<polyline points="323.4,218.1 324.9,214.8" fill="none" stroke="#000" stroke-width="1.55" stroke-linejoin="round" stroke-linecap="round"/>
<polyline points="324.9,214.8 326.4,221.3 327.7,234.5 329.3,245.4" fill="none" stroke="#dc143c" stroke-width="1.55" stroke-linejoin="round" stroke-linecap="round"/>
<polyline points="329.3,245.4 330.4,232.3 331.5,219.2 332.6,212.6 334.3,208.2 335.8,207.8 337.4,192.9 338.7,178.7 340.2,177.6" fill="none" stroke="#000" stroke-width="1.55" stroke-linejoin="round" stroke-linecap="round"/>
<polyline points="340.2,177.6 341.3,184.1 342.4,197.3 343.5,217.0 344.4,232.3 345.3,236.7" fill="none" stroke="#dc143c" stroke-width="1.55" stroke-linejoin="round" stroke-linecap="round"/>
<polyline points="345.3,236.7 346.4,235.6" fill="none" stroke="#000" stroke-width="1.55" stroke-linejoin="round" stroke-linecap="round"/>
<polyline points="346.4,235.6 347.4,247.6 348.3,265.1 348.5,300.0 349.6,385.0 350.2,391.5" fill="none" stroke="#dc143c" stroke-width="1.55" stroke-linejoin="round" stroke-linecap="round"/>
<polyline points="350.2,391.5 350.8,385.0 351.5,300.0 351.8,280.0 352.6,262.0 353.6,256.4 354.4,243.2 355.6,219.2 356.6,209.3" fill="none" stroke="#000" stroke-width="1.55" stroke-linejoin="round" stroke-linecap="round"/>
<polyline points="356.6,209.3 357.7,212.6" fill="none" stroke="#dc143c" stroke-width="1.55" stroke-linejoin="round" stroke-linecap="round"/>
<polyline points="357.7,212.6 358.8,211.5" fill="none" stroke="#000" stroke-width="1.55" stroke-linejoin="round" stroke-linecap="round"/>
<polyline points="358.8,211.5 359.9,227.9 361.0,240.0" fill="none" stroke="#dc143c" stroke-width="1.55" stroke-linejoin="round" stroke-linecap="round"/>
<polyline points="361.0,240.0 361.9,212.6 362.8,184.1 364.3,172.1 365.8,163.3 367.6,161.1 369.3,157.4 370.9,154.6 372.4,153.0" fill="none" stroke="#000" stroke-width="1.55" stroke-linejoin="round" stroke-linecap="round"/>
<polyline points="372.4,153.0 373.7,156.8 375.3,157.8" fill="none" stroke="#dc143c" stroke-width="1.55" stroke-linejoin="round" stroke-linecap="round"/>
<polyline points="375.3,157.8 376.8,154.6 378.1,150.8 379.6,149.5" fill="none" stroke="#000" stroke-width="1.55" stroke-linejoin="round" stroke-linecap="round"/>
<polyline points="379.6,149.5 381.2,152.4" fill="none" stroke="#dc143c" stroke-width="1.55" stroke-linejoin="round" stroke-linecap="round"/>
<polyline points="381.2,152.4 382.9,149.1 384.7,146.9 386.6,146.2" fill="none" stroke="#000" stroke-width="1.55" stroke-linejoin="round" stroke-linecap="round"/>
<polyline points="386.6,146.2 387.7,150.2 389.1,153.5" fill="none" stroke="#dc143c" stroke-width="1.55" stroke-linejoin="round" stroke-linecap="round"/>
<polyline points="389.1,153.5 390.6,150.8" fill="none" stroke="#000" stroke-width="1.55" stroke-linejoin="round" stroke-linecap="round"/>
<polyline points="390.6,150.8 392.1,152.4 393.4,156.8" fill="none" stroke="#dc143c" stroke-width="1.55" stroke-linejoin="round" stroke-linecap="round"/>
<polyline points="393.4,156.8 395.0,155.7" fill="none" stroke="#000" stroke-width="1.55" stroke-linejoin="round" stroke-linecap="round"/>
<polyline points="395.0,155.7 397.1,158.9" fill="none" stroke="#dc143c" stroke-width="1.55" stroke-linejoin="round" stroke-linecap="round"/>
<polyline points="397.1,158.9 399.3,157.8 400.4,154.6" fill="none" stroke="#000" stroke-width="1.55" stroke-linejoin="round" stroke-linecap="round"/>
<polyline points="400.4,154.6 402.6,155.7 404.8,157.4 407.0,157.8 408.1,163.3 409.6,167.7 411.4,171.0" fill="none" stroke="#dc143c" stroke-width="1.55" stroke-linejoin="round" stroke-linecap="round"/>
<polyline points="411.4,171.0 413.1,166.6 414.7,164.4 416.2,163.3 417.5,157.8 419.1,156.8" fill="none" stroke="#000" stroke-width="1.55" stroke-linejoin="round" stroke-linecap="round"/>
<polyline points="419.1,156.8 420.0,157.8" fill="none" stroke="#dc143c" stroke-width="1.55" stroke-linejoin="round" stroke-linecap="round"/>
<polyline points="420.0,157.8 421.8,155.7 423.3,153.0" fill="none" stroke="#000" stroke-width="1.55" stroke-linejoin="round" stroke-linecap="round"/>
<polyline points="423.3,153.0 424.8,157.8 426.6,161.1 428.3,164.4 429.9,171.0" fill="none" stroke="#dc143c" stroke-width="1.55" stroke-linejoin="round" stroke-linecap="round"/>
<polyline points="429.9,171.0 431.4,167.7" fill="none" stroke="#000" stroke-width="1.55" stroke-linejoin="round" stroke-linecap="round"/>
<polyline points="431.4,167.7 433.1,169.9 434.9,171.0 436.4,174.3" fill="none" stroke="#dc143c" stroke-width="1.55" stroke-linejoin="round" stroke-linecap="round"/>
<polyline points="436.4,174.3 438.0,167.7 439.7,163.3 441.0,162.7" fill="none" stroke="#000" stroke-width="1.55" stroke-linejoin="round" stroke-linecap="round"/>
<polyline points="441.0,162.7 442.3,168.8 443.6,181.9 444.5,196.2 446.3,198.4 448.5,201.6 450.7,203.4" fill="none" stroke="#dc143c" stroke-width="1.55" stroke-linejoin="round" stroke-linecap="round"/>
<polyline points="450.7,203.4 452.0,199.4 453.3,195.1" fill="none" stroke="#000" stroke-width="1.55" stroke-linejoin="round" stroke-linecap="round"/>
<polyline points="453.3,195.1 455.0,196.2 456.4,198.4" fill="none" stroke="#dc143c" stroke-width="1.55" stroke-linejoin="round" stroke-linecap="round"/>
<polyline points="456.4,198.4 457.7,195.1" fill="none" stroke="#000" stroke-width="1.55" stroke-linejoin="round" stroke-linecap="round"/>
<polyline points="457.7,195.1 459.4,200.6 460.7,203.4" fill="none" stroke="#dc143c" stroke-width="1.55" stroke-linejoin="round" stroke-linecap="round"/>
<polyline points="460.7,203.4 462.0,197.3 463.8,195.1 465.1,194.6 466.4,190.7 467.7,188.9" fill="none" stroke="#000" stroke-width="1.55" stroke-linejoin="round" stroke-linecap="round"/>
<polyline points="467.7,188.9 469.1,195.1 469.9,203.8 471.0,209.3" fill="none" stroke="#dc143c" stroke-width="1.55" stroke-linejoin="round" stroke-linecap="round"/>
<polyline points="471.0,209.3 472.1,199.4 473.4,192.9 474.7,190.7 476.1,186.3 477.4,183.0" fill="none" stroke="#000" stroke-width="1.55" stroke-linejoin="round" stroke-linecap="round"/>
<polyline points="477.4,183.0 479.1,185.2" fill="none" stroke="#dc143c" stroke-width="1.55" stroke-linejoin="round" stroke-linecap="round"/>
<polyline points="479.1,185.2 480.4,183.0 481.8,177.6 483.5,173.2 485.3,171.4" fill="none" stroke="#000" stroke-width="1.55" stroke-linejoin="round" stroke-linecap="round"/>
<polyline points="485.3,171.4 486.8,172.1 488.3,177.6 489.6,188.5" fill="none" stroke="#dc143c" stroke-width="1.55" stroke-linejoin="round" stroke-linecap="round"/>
<polyline points="489.6,188.5 490.9,185.2 492.3,183.7 494.0,181.5 495.6,178.7 497.1,177.1" fill="none" stroke="#000" stroke-width="1.55" stroke-linejoin="round" stroke-linecap="round"/>
<polyline points="497.1,177.1 498.8,180.8" fill="none" stroke="#dc143c" stroke-width="1.55" stroke-linejoin="round" stroke-linecap="round"/>
<polyline points="498.8,180.8 500.6,179.7" fill="none" stroke="#000" stroke-width="1.55" stroke-linejoin="round" stroke-linecap="round"/>
<polyline points="500.6,179.7 502.1,183.0 503.2,188.5 505.0,195.5" fill="none" stroke="#dc143c" stroke-width="1.55" stroke-linejoin="round" stroke-linecap="round"/>
<polyline points="505.0,195.5 506.5,194.6" fill="none" stroke="#000" stroke-width="1.55" stroke-linejoin="round" stroke-linecap="round"/>
<polyline points="506.5,194.6 508.0,196.2" fill="none" stroke="#dc143c" stroke-width="1.55" stroke-linejoin="round" stroke-linecap="round"/>
<polyline points="508.0,196.2 509.3,190.7 510.9,189.6" fill="none" stroke="#000" stroke-width="1.55" stroke-linejoin="round" stroke-linecap="round"/>
<polyline points="510.9,189.6 512.4,190.7" fill="none" stroke="#dc143c" stroke-width="1.55" stroke-linejoin="round" stroke-linecap="round"/>
<polyline points="512.4,190.7 513.7,184.1 515.0,172.1 516.4,167.7" fill="none" stroke="#000" stroke-width="1.55" stroke-linejoin="round" stroke-linecap="round"/>
<polyline points="516.4,167.7 517.7,172.1 519.0,175.4 520.7,177.6 522.0,179.7 523.4,190.7 524.7,201.6 526.0,215.9" fill="none" stroke="#dc143c" stroke-width="1.55" stroke-linejoin="round" stroke-linecap="round"/>
<polyline points="526.0,215.9 527.3,211.5 528.6,201.6" fill="none" stroke="#000" stroke-width="1.55" stroke-linejoin="round" stroke-linecap="round"/>
<polyline points="528.6,201.6 529.9,210.4 531.2,221.3 532.5,230.1 533.9,232.3 535.0,242.2" fill="none" stroke="#dc143c" stroke-width="1.55" stroke-linejoin="round" stroke-linecap="round"/>
<polyline points="535.0,242.2 536.1,230.1 536.9,224.6" fill="none" stroke="#000" stroke-width="1.55" stroke-linejoin="round" stroke-linecap="round"/>
<polyline points="536.9,224.6 537.8,230.1" fill="none" stroke="#dc143c" stroke-width="1.55" stroke-linejoin="round" stroke-linecap="round"/>
<polyline points="537.8,230.1 538.7,221.3 540.0,212.6 540.9,201.6 541.8,195.1" fill="none" stroke="#000" stroke-width="1.55" stroke-linejoin="round" stroke-linecap="round"/>
<polyline points="541.8,195.1 542.6,195.1" fill="none" stroke="#dc143c" stroke-width="1.55" stroke-linejoin="round" stroke-linecap="round"/>
<polyline points="542.6,195.1 543.5,188.5 544.8,179.7 546.1,175.4 547.5,172.1 548.8,171.4" fill="none" stroke="#000" stroke-width="1.55" stroke-linejoin="round" stroke-linecap="round"/>
<polyline points="548.8,171.4 550.0,175.4 551.8,176.5 553.3,177.6 554.8,179.3 556.1,186.3 557.7,189.6" fill="none" stroke="#dc143c" stroke-width="1.55" stroke-linejoin="round" stroke-linecap="round"/>
<polyline points="557.7,189.6 559.2,181.9 561.0,179.7" fill="none" stroke="#000" stroke-width="1.55" stroke-linejoin="round" stroke-linecap="round"/>
<polyline points="561.0,179.7 562.7,182.4 564.5,184.1" fill="none" stroke="#dc143c" stroke-width="1.55" stroke-linejoin="round" stroke-linecap="round"/>
<polyline points="564.5,184.1 566.4,183.0" fill="none" stroke="#000" stroke-width="1.55" stroke-linejoin="round" stroke-linecap="round"/>
<polyline points="566.4,183.0 568.0,183.7 569.7,189.6" fill="none" stroke="#dc143c" stroke-width="1.55" stroke-linejoin="round" stroke-linecap="round"/>
<polyline points="569.7,189.6 571.0,183.0 572.8,177.6 574.5,176.5" fill="none" stroke="#000" stroke-width="1.55" stroke-linejoin="round" stroke-linecap="round"/>
<polyline points="574.5,176.5 576.3,178.7 578.0,183.0 579.3,192.9" fill="none" stroke="#dc143c" stroke-width="1.55" stroke-linejoin="round" stroke-linecap="round"/>
<polyline points="579.3,192.9 580.7,189.6" fill="none" stroke="#000" stroke-width="1.55" stroke-linejoin="round" stroke-linecap="round"/>
<polyline points="580.7,189.6 582.0,197.3 583.3,204.9" fill="none" stroke="#dc143c" stroke-width="1.55" stroke-linejoin="round" stroke-linecap="round"/>
<polyline points="583.3,204.9 584.6,199.4" fill="none" stroke="#000" stroke-width="1.55" stroke-linejoin="round" stroke-linecap="round"/>
<polyline points="584.6,199.4 585.9,200.6 587.2,204.3" fill="none" stroke="#dc143c" stroke-width="1.55" stroke-linejoin="round" stroke-linecap="round"/>
<polyline points="587.2,204.3 588.5,195.1 589.4,191.8" fill="none" stroke="#000" stroke-width="1.55" stroke-linejoin="round" stroke-linecap="round"/>
<polyline points="589.4,191.8 590.7,197.3 592.0,204.9 593.4,209.3 594.7,217.0 596.0,221.3 597.7,223.1" fill="none" stroke="#dc143c" stroke-width="1.55" stroke-linejoin="round" stroke-linecap="round"/>
<polyline points="597.7,223.1 599.3,221.3 600.8,217.0 601.7,209.3 603.0,206.0 604.3,203.8" fill="none" stroke="#000" stroke-width="1.55" stroke-linejoin="round" stroke-linecap="round"/>
<polyline points="604.3,203.8 605.6,204.9" fill="none" stroke="#dc143c" stroke-width="1.55" stroke-linejoin="round" stroke-linecap="round"/>
<polyline points="605.6,204.9 606.9,200.6 608.2,198.4" fill="none" stroke="#000" stroke-width="1.55" stroke-linejoin="round" stroke-linecap="round"/>
<polyline points="608.2,198.4 609.6,199.4" fill="none" stroke="#dc143c" stroke-width="1.55" stroke-linejoin="round" stroke-linecap="round"/>
<polyline points="609.6,199.4 610.9,197.3 611.8,184.1 612.6,177.6 613.9,176.5" fill="none" stroke="#000" stroke-width="1.55" stroke-linejoin="round" stroke-linecap="round"/>
<polyline points="613.9,176.5 615.3,182.4 616.6,187.4" fill="none" stroke="#dc143c" stroke-width="1.55" stroke-linejoin="round" stroke-linecap="round"/>
<polyline points="616.6,187.4 617.9,183.0 619.2,179.7" fill="none" stroke="#000" stroke-width="1.55" stroke-linejoin="round" stroke-linecap="round"/>
<polyline points="619.2,179.7 620.5,180.8 621.8,183.0" fill="none" stroke="#dc143c" stroke-width="1.55" stroke-linejoin="round" stroke-linecap="round"/>
<polyline points="621.8,183.0 623.1,180.8" fill="none" stroke="#000" stroke-width="1.55" stroke-linejoin="round" stroke-linecap="round"/>
<polyline points="623.1,180.8 624.5,188.5 625.8,197.3 627.1,202.7" fill="none" stroke="#dc143c" stroke-width="1.55" stroke-linejoin="round" stroke-linecap="round"/>
<polyline points="627.1,202.7 628.4,197.3" fill="none" stroke="#000" stroke-width="1.55" stroke-linejoin="round" stroke-linecap="round"/>
<polyline points="628.4,197.3 629.7,198.4 630.6,206.0 631.9,214.8 632.8,221.3" fill="none" stroke="#dc143c" stroke-width="1.55" stroke-linejoin="round" stroke-linecap="round"/>
<polyline points="632.8,221.3 633.6,212.6" fill="none" stroke="#000" stroke-width="1.55" stroke-linejoin="round" stroke-linecap="round"/>
<polyline points="633.6,212.6 634.5,225.7" fill="none" stroke="#dc143c" stroke-width="1.55" stroke-linejoin="round" stroke-linecap="round"/>
<polyline points="634.5,225.7 635.4,217.0 636.3,214.8" fill="none" stroke="#000" stroke-width="1.55" stroke-linejoin="round" stroke-linecap="round"/>
<polyline points="636.3,214.8 637.1,221.3 638.0,230.1 638.9,237.8 639.8,242.8" fill="none" stroke="#dc143c" stroke-width="1.55" stroke-linejoin="round" stroke-linecap="round"/>
<polyline points="47.7,187.4 49.9,186.3 52.1,186.8 54.7,191.8 56.9,195.5 59.1,198.4 61.8,206.0 63.9,213.7 66.1,221.3 67.9,231.2 69.6,238.9 71.4,241.1 73.6,238.9 75.8,234.5 78.0,227.9 80.2,218.1 82.8,209.3 85.4,200.6 87.6,194.0 90.2,187.4 92.4,182.4 94.6,179.3 96.3,180.8 98.5,185.2 100.7,190.7 102.9,196.2 105.1,201.6 107.3,204.3 109.5,202.7 111.7,198.4 113.9,193.3 116.5,188.5 119.3,185.2 122.2,183.0 125.3,181.9 128.1,181.5 131.4,181.5 134.0,180.8 135.8,182.4 138.4,186.3 140.0,188.5 142.6,195.1 144.8,202.7 147.7,208.2 150.5,211.5 152.7,217.0 154.9,221.3 157.1,219.6 159.3,211.5 161.5,199.4 163.7,187.4 165.8,177.6 168.5,169.9 171.1,165.5 173.3,164.4 175.0,167.7 177.2,173.6 179.4,179.7 181.6,185.2 183.8,188.5 186.0,187.4 188.6,182.4 191.5,175.4 193.7,170.6 195.8,168.4 198.0,168.8 200.9,171.0 203.5,173.2 206.8,174.9 210.1,175.8 213.4,175.8 216.2,177.1 218.8,179.3 221.5,181.9 224.3,184.6 226.5,188.1 228.0,189.6 229.8,186.3 232.0,182.4 234.6,178.7 237.4,174.9 239.6,172.7 241.8,173.2 244.7,174.9 247.3,174.3 249.5,171.0 252.1,167.7 255.0,165.5 258.2,164.0 260.9,164.4 263.1,167.7 265.3,176.5 267.4,188.5 269.6,200.6 271.8,211.5 274.0,219.2 275.3,222.4 276.9,217.0 279.1,210.4 280.0,207.1 281.8,209.3 283.9,203.8 286.6,196.2 289.2,190.7 292.0,186.8 294.9,183.7 297.5,180.2 300.1,177.1 303.0,174.3 305.8,172.7 308.5,172.1 311.1,169.9 312.9,171.0 315.0,176.5 317.7,183.7 319.9,190.7 322.0,198.4 324.2,204.9 326.4,211.5 328.6,218.1 330.8,222.4 333.0,221.3 335.2,220.3 337.4,217.0 339.6,208.2 341.8,199.4 343.5,197.3 345.3,199.4 347.0,202.7 348.3,212.6 349.6,225.7 351.2,238.9 352.7,254.2 354.0,265.1 353.6,270.0 355.0,264.0 356.5,268.0 358.8,256.4 360.6,247.6 361.9,234.5 363.2,217.0 365.0,201.6 367.1,188.5 369.3,177.6 371.5,167.7 373.7,161.1 376.4,157.8 379.0,155.7 381.8,153.5 384.7,151.3 387.3,150.2 389.5,151.3 392.1,150.8 395.0,153.5 397.8,155.7 400.4,156.8 403.1,157.4 405.9,158.3 408.8,158.9 411.4,161.1 413.6,164.4 416.2,164.0 419.1,162.7 420.0,164.0 422.2,161.1 424.8,157.8 427.7,157.4 430.5,160.0 433.1,164.0 435.8,167.0 438.6,168.8 441.5,168.8 443.6,171.0 445.8,177.6 448.0,184.1 450.2,190.3 452.4,195.1 455.0,198.4 457.7,199.4 460.5,199.4 463.4,198.4 466.0,196.2 468.6,196.2 471.5,197.3 474.3,196.2 476.9,193.3 479.6,189.6 482.4,186.3 485.3,184.6 487.9,184.1 490.5,183.7 493.4,181.9 496.2,181.5 498.8,181.5 501.5,181.9 504.3,184.1 507.1,187.4 509.8,190.3 512.0,191.1 514.2,189.6 516.4,184.1 518.5,179.7 520.7,178.0 522.9,178.7 525.1,181.9 527.3,188.5 529.5,197.3 531.7,206.0 533.9,213.7 536.1,219.2 538.2,222.4 540.4,222.4 542.6,219.2 544.8,212.6 547.0,201.6 549.2,190.7 550.0,179.7 552.2,177.6 554.8,177.1 557.7,179.3 560.5,182.4 563.1,184.1 565.8,184.6 568.6,184.6 571.5,183.7 574.1,182.4 576.7,181.9 578.9,183.0 581.1,187.4 583.3,190.7 585.5,194.6 587.7,196.2 589.9,198.4 592.0,201.6 594.2,204.9 596.4,208.2 598.6,211.5 600.8,214.3 603.0,215.2 605.2,214.8 607.4,211.5 609.6,207.1 611.8,201.6 613.9,196.2 616.1,190.7 618.3,186.8 620.5,184.1 622.7,182.4 624.5,182.4 626.6,185.2 628.8,188.5 631.0,191.8 632.8,197.3 634.5,203.8 636.3,208.2 638.0,211.5 639.8,214.8" fill="none" stroke="#0000aa" stroke-width="1.1" stroke-linejoin="round"/>
</g>
<rect x="47" y="127.5" width="135" height="12.5" fill="#fff"/>
<rect x="47" y="140" width="76.5" height="20.5" fill="#fff"/>
<line x1="49.2" y1="133.8" x2="57.8" y2="133.8" stroke="#000" stroke-width="2.2"/>
<text x="61.7" y="138.2" font-size="9.9" font-weight="normal" fill="#000" stroke="#000" stroke-width="0.04" text-anchor="start" textLength="118.2" lengthAdjust="spacingAndGlyphs" letter-spacing="0.5" >$BPNDX (Daily) 30.00</text>
<line x1="49.2" y1="145" x2="57.8" y2="145" stroke="#000090" stroke-width="2"/>
<text x="59.4" y="149.1" font-size="9.9" font-weight="normal" fill="#0000a0" stroke="#0000a0" stroke-width="0.04" text-anchor="start" textLength="58.8" lengthAdjust="spacingAndGlyphs" letter-spacing="0.5" >MA(10) 40.30</text>
<polygon points="49.5,158.70000000000002 53.2,151.9 55.5,155.5 57.5,153.5 57.5,158.70000000000002" fill="#ee8ce4" stroke="#ee70e4" stroke-width="1" stroke-linejoin="round"/>
<text x="60.1" y="158.7" font-size="9.9" font-weight="normal" fill="#ff00dc" stroke="#ff00dc" stroke-width="0.04" text-anchor="start" textLength="61.7" lengthAdjust="spacingAndGlyphs" letter-spacing="0.5" >$VIX 139.51%</text>
<polygon points="60.5,269.5 65.5,264.0 70.5,269.5" fill="#fff" stroke="#ccc" stroke-width="0.9"/>
<rect x="52.7" y="269.5" width="25.6" height="10" fill="#fff" stroke="#ccc" stroke-width="0.9"/>
<text x="54.3" y="278.2" font-size="10.3" textLength="22.4" lengthAdjust="spacingAndGlyphs" fill="#000" stroke="#000" stroke-width="0.1">24.00</text>
<polygon points="95.5,225.1 100.5,219.6 105.5,225.1" fill="#fff" stroke="#ccc" stroke-width="0.9"/>
<rect x="87.7" y="225.1" width="25.6" height="10" fill="#fff" stroke="#ccc" stroke-width="0.9"/>
<text x="89.3" y="233.79999999999998" font-size="10.3" textLength="22.4" lengthAdjust="spacingAndGlyphs" fill="#000" stroke="#000" stroke-width="0.1">39.00</text>
<polygon points="159.5,152.5 164.5,158.0 169.5,152.5" fill="#fff" stroke="#ccc" stroke-width="0.9"/>
<rect x="151.7" y="142.5" width="25.6" height="10" fill="#fff" stroke="#ccc" stroke-width="0.9"/>
<text x="153.3" y="151.2" font-size="10.3" textLength="22.4" lengthAdjust="spacingAndGlyphs" fill="#000" stroke="#000" stroke-width="0.1">75.00</text>
<polygon points="172,209.5 177,204.0 182,209.5" fill="#fff" stroke="#ccc" stroke-width="0.9"/>
<rect x="164.2" y="209.5" width="25.6" height="10" fill="#fff" stroke="#ccc" stroke-width="0.9"/>
<text x="165.8" y="218.2" font-size="10.3" textLength="22.4" lengthAdjust="spacingAndGlyphs" fill="#000" stroke="#000" stroke-width="0.1">46.00</text>
<polygon points="220,203.5 225,198.0 230,203.5" fill="#fff" stroke="#ccc" stroke-width="0.9"/>
<rect x="212.2" y="203.5" width="25.6" height="10" fill="#fff" stroke="#ccc" stroke-width="0.9"/>
<text x="213.8" y="212.2" font-size="10.3" textLength="22.4" lengthAdjust="spacingAndGlyphs" fill="#000" stroke="#000" stroke-width="0.1">49.00</text>
<polygon points="250.8,156.6 255.8,162.1 260.8,156.6" fill="#fff" stroke="#ccc" stroke-width="0.9"/>
<rect x="243.0" y="146.6" width="25.6" height="10" fill="#fff" stroke="#ccc" stroke-width="0.9"/>
<text x="244.60000000000002" y="155.29999999999998" font-size="10.3" textLength="22.4" lengthAdjust="spacingAndGlyphs" fill="#000" stroke="#000" stroke-width="0.1">72.00</text>
<polygon points="267,237.6 272,232.1 277,237.6" fill="#fff" stroke="#ccc" stroke-width="0.9"/>
<rect x="259.2" y="237.6" width="25.6" height="10" fill="#fff" stroke="#ccc" stroke-width="0.9"/>
<text x="260.8" y="246.29999999999998" font-size="10.3" textLength="22.4" lengthAdjust="spacingAndGlyphs" fill="#000" stroke="#000" stroke-width="0.1">34.00</text>
<polygon points="295.8,158.5 300.8,164.0 305.8,158.5" fill="#fff" stroke="#ccc" stroke-width="0.9"/>
<rect x="288.0" y="148.5" width="25.6" height="10" fill="#fff" stroke="#ccc" stroke-width="0.9"/>
<text x="289.6" y="157.2" font-size="10.3" textLength="22.4" lengthAdjust="spacingAndGlyphs" fill="#000" stroke="#000" stroke-width="0.1">70.00</text>
<polygon points="333,171.6 338,177.1 343,171.6" fill="#fff" stroke="#ccc" stroke-width="0.9"/>
<rect x="325.2" y="161.6" width="25.6" height="10" fill="#fff" stroke="#ccc" stroke-width="0.9"/>
<text x="326.8" y="170.29999999999998" font-size="10.3" textLength="22.4" lengthAdjust="spacingAndGlyphs" fill="#000" stroke="#000" stroke-width="0.1">61.00</text>
<polygon points="323.2,253.0 328.2,247.5 333.2,253.0" fill="#fff" stroke="#ccc" stroke-width="0.9"/>
<rect x="315.4" y="253.0" width="25.6" height="10" fill="#fff" stroke="#ccc" stroke-width="0.9"/>
<text x="317.0" y="261.7" font-size="10.3" textLength="22.4" lengthAdjust="spacingAndGlyphs" fill="#000" stroke="#000" stroke-width="0.1">29.00</text>
<polygon points="380.3,140 385.3,145.5 390.3,140" fill="#fff" stroke="#ccc" stroke-width="0.9"/>
<rect x="372.5" y="130" width="25.6" height="10" fill="#fff" stroke="#ccc" stroke-width="0.9"/>
<text x="374.1" y="138.7" font-size="10.3" textLength="22.4" lengthAdjust="spacingAndGlyphs" fill="#000" stroke="#000" stroke-width="0.1">85.00</text>
<polygon points="418.4,146.2 423.4,151.7 428.4,146.2" fill="#fff" stroke="#ccc" stroke-width="0.9"/>
<rect x="410.59999999999997" y="136.2" width="25.6" height="10" fill="#fff" stroke="#ccc" stroke-width="0.9"/>
<text x="412.2" y="144.89999999999998" font-size="10.3" textLength="22.4" lengthAdjust="spacingAndGlyphs" fill="#000" stroke="#000" stroke-width="0.1">80.00</text>
<polygon points="464.9,215.7 469.9,210.2 474.9,215.7" fill="#fff" stroke="#ccc" stroke-width="0.9"/>
<rect x="457.09999999999997" y="215.7" width="25.6" height="10" fill="#fff" stroke="#ccc" stroke-width="0.9"/>
<text x="458.7" y="224.39999999999998" font-size="10.3" textLength="22.4" lengthAdjust="spacingAndGlyphs" fill="#000" stroke="#000" stroke-width="0.1">43.00</text>
<polygon points="501.8,202.7 506.8,197.2 511.8,202.7" fill="#fff" stroke="#ccc" stroke-width="0.9"/>
<rect x="494.0" y="202.7" width="25.6" height="10" fill="#fff" stroke="#ccc" stroke-width="0.9"/>
<text x="495.6" y="211.39999999999998" font-size="10.3" textLength="22.4" lengthAdjust="spacingAndGlyphs" fill="#000" stroke="#000" stroke-width="0.1">50.00</text>
<polygon points="509.79999999999995,164.6 514.8,170.1 519.8,164.6" fill="#fff" stroke="#ccc" stroke-width="0.9"/>
<rect x="501.99999999999994" y="154.6" width="25.6" height="10" fill="#fff" stroke="#ccc" stroke-width="0.9"/>
<text x="503.59999999999997" y="163.29999999999998" font-size="10.3" textLength="22.4" lengthAdjust="spacingAndGlyphs" fill="#000" stroke="#000" stroke-width="0.1">66.00</text>
<polygon points="541.6,165.5 546.6,171.0 551.6,165.5" fill="#fff" stroke="#ccc" stroke-width="0.9"/>
<rect x="533.8000000000001" y="155.5" width="25.6" height="10" fill="#fff" stroke="#ccc" stroke-width="0.9"/>
<text x="535.4" y="164.2" font-size="10.3" textLength="22.4" lengthAdjust="spacingAndGlyphs" fill="#000" stroke="#000" stroke-width="0.1">65.00</text>
<polygon points="527.8,249.7 532.8,244.2 537.8,249.7" fill="#fff" stroke="#ccc" stroke-width="0.9"/>
<rect x="520.0" y="249.7" width="25.6" height="10" fill="#fff" stroke="#ccc" stroke-width="0.9"/>
<text x="521.5999999999999" y="258.4" font-size="10.3" textLength="22.4" lengthAdjust="spacingAndGlyphs" fill="#000" stroke="#000" stroke-width="0.1">30.00</text>
<polygon points="607,170.7 612,176.2 617,170.7" fill="#fff" stroke="#ccc" stroke-width="0.9"/>
<rect x="599.2" y="160.7" width="25.6" height="10" fill="#fff" stroke="#ccc" stroke-width="0.9"/>
<text x="600.8" y="169.39999999999998" font-size="10.3" textLength="22.4" lengthAdjust="spacingAndGlyphs" fill="#000" stroke="#000" stroke-width="0.1">62.00</text>
<polygon points="591.6,229.8 596.6,224.3 601.6,229.8" fill="#fff" stroke="#ccc" stroke-width="0.9"/>
<rect x="583.8000000000001" y="229.8" width="25.6" height="10" fill="#fff" stroke="#ccc" stroke-width="0.9"/>
<text x="585.4" y="238.5" font-size="10.3" textLength="22.4" lengthAdjust="spacingAndGlyphs" fill="#000" stroke="#000" stroke-width="0.1">37.00</text>
<polygon points="345.1,398.0 350.1,392.5 355.1,398.0" fill="#fff" stroke="#ccc" stroke-width="0.9"/>
<rect x="339.70000000000005" y="398.0" width="20.8" height="10" fill="#fff" stroke="#ccc" stroke-width="0.9"/>
<text x="341.3" y="406.7" font-size="10.3" textLength="17.6" lengthAdjust="spacingAndGlyphs" fill="#000" stroke="#000" stroke-width="0.1">6.00</text>
<line x1="386.6" y1="145.8" x2="620.5" y2="181.5" stroke="#0a14e6" stroke-width="2.35"/>
<line x1="516.8" y1="167.5" x2="516.8" y2="408.5" stroke="#0000ff" stroke-width="1.25"/>
<line x1="535.6" y1="242" x2="535.6" y2="408.5" stroke="#0000ff" stroke-width="1.25"/>
<rect x="481" y="270" width="97" height="32.5" fill="#c3c3c3"/>
<rect x="479.5" y="268.5" width="96" height="32" fill="#fff" stroke="#777" stroke-width="1"/>
<text x="482" y="280.8" font-size="10.7" font-weight="bold" fill="#0000f0" stroke="#0000f0" stroke-width="0.2" text-anchor="start" textLength="57" lengthAdjust="spacingAndGlyphs" >Oct 28 Top</text>
<text x="482" y="293.6" font-size="10.7" font-weight="bold" fill="#0000f0" stroke="#0000f0" stroke-width="0.2" text-anchor="start" textLength="84" lengthAdjust="spacingAndGlyphs" >Nov 18 Bottom?</text>
<line x1="46.0" y1="127.5" x2="645.0" y2="127.5" stroke="#ccc" stroke-width="1"/>
<line x1="46.0" y1="410.5" x2="645.0" y2="410.5" stroke="#ccc" stroke-width="1"/>
<line x1="46.5" y1="127.0" x2="46.5" y2="411.0" stroke="#bbb" stroke-width="1"/>
<line x1="644.5" y1="127.0" x2="644.5" y2="411.0" stroke="#bbb" stroke-width="1"/>
<text x="43" y="145.9" font-size="9.4" font-weight="normal" fill="#000" stroke="#000" stroke-width="0.04" text-anchor="end" textLength="26.2" lengthAdjust="spacingAndGlyphs" >300%</text>
<line x1="43.5" y1="143.5" x2="46.5" y2="143.5" stroke="#bbb" stroke-width="1"/>
<text x="43" y="167.08" font-size="9.4" font-weight="normal" fill="#000" stroke="#000" stroke-width="0.04" text-anchor="end" textLength="26.2" lengthAdjust="spacingAndGlyphs" >275%</text>
<line x1="43.5" y1="164.5" x2="46.5" y2="164.5" stroke="#bbb" stroke-width="1"/>
<text x="43" y="188.26000000000002" font-size="9.4" font-weight="normal" fill="#000" stroke="#000" stroke-width="0.04" text-anchor="end" textLength="26.2" lengthAdjust="spacingAndGlyphs" >250%</text>
<line x1="43.5" y1="185.5" x2="46.5" y2="185.5" stroke="#bbb" stroke-width="1"/>
<text x="43" y="209.44" font-size="9.4" font-weight="normal" fill="#000" stroke="#000" stroke-width="0.04" text-anchor="end" textLength="26.2" lengthAdjust="spacingAndGlyphs" >225%</text>
<line x1="43.5" y1="207.5" x2="46.5" y2="207.5" stroke="#bbb" stroke-width="1"/>
<text x="43" y="230.62" font-size="9.4" font-weight="normal" fill="#000" stroke="#000" stroke-width="0.04" text-anchor="end" textLength="26.2" lengthAdjust="spacingAndGlyphs" >200%</text>
<line x1="43.5" y1="228.5" x2="46.5" y2="228.5" stroke="#bbb" stroke-width="1"/>
<text x="43" y="251.8" font-size="9.4" font-weight="normal" fill="#000" stroke="#000" stroke-width="0.04" text-anchor="end" textLength="26.2" lengthAdjust="spacingAndGlyphs" >175%</text>
<line x1="43.5" y1="249.5" x2="46.5" y2="249.5" stroke="#bbb" stroke-width="1"/>
<text x="43" y="272.97999999999996" font-size="9.4" font-weight="normal" fill="#000" stroke="#000" stroke-width="0.04" text-anchor="end" textLength="26.2" lengthAdjust="spacingAndGlyphs" >150%</text>
<line x1="43.5" y1="270.5" x2="46.5" y2="270.5" stroke="#bbb" stroke-width="1"/>
<text x="43" y="294.15999999999997" font-size="9.4" font-weight="normal" fill="#000" stroke="#000" stroke-width="0.04" text-anchor="end" textLength="26.2" lengthAdjust="spacingAndGlyphs" >125%</text>
<line x1="43.5" y1="291.5" x2="46.5" y2="291.5" stroke="#bbb" stroke-width="1"/>
<text x="43" y="315.34" font-size="9.4" font-weight="normal" fill="#000" stroke="#000" stroke-width="0.04" text-anchor="end" textLength="26.2" lengthAdjust="spacingAndGlyphs" >100%</text>
<line x1="43.5" y1="312.5" x2="46.5" y2="312.5" stroke="#bbb" stroke-width="1"/>
<text x="43" y="336.52" font-size="9.4" font-weight="normal" fill="#000" stroke="#000" stroke-width="0.04" text-anchor="end" textLength="20.3" lengthAdjust="spacingAndGlyphs" >75%</text>
<line x1="43.5" y1="334.5" x2="46.5" y2="334.5" stroke="#bbb" stroke-width="1"/>
<text x="43" y="357.7" font-size="9.4" font-weight="normal" fill="#000" stroke="#000" stroke-width="0.04" text-anchor="end" textLength="20.3" lengthAdjust="spacingAndGlyphs" >50%</text>
<line x1="43.5" y1="355.5" x2="46.5" y2="355.5" stroke="#bbb" stroke-width="1"/>
<text x="43" y="378.88" font-size="9.4" font-weight="normal" fill="#000" stroke="#000" stroke-width="0.04" text-anchor="end" textLength="20.3" lengthAdjust="spacingAndGlyphs" >25%</text>
<line x1="43.5" y1="376.5" x2="46.5" y2="376.5" stroke="#bbb" stroke-width="1"/>
<text x="43" y="400.05999999999995" font-size="9.4" font-weight="normal" fill="#000" stroke="#000" stroke-width="0.04" text-anchor="end" textLength="13.9" lengthAdjust="spacingAndGlyphs" >0%</text>
<line x1="43.5" y1="397.5" x2="46.5" y2="397.5" stroke="#bbb" stroke-width="1"/>
<text x="647.6" y="148.89689321352512" font-size="9.8" font-weight="normal" fill="#000" stroke="#000" stroke-width="0.04" text-anchor="start" textLength="11.3" lengthAdjust="spacingAndGlyphs" >85</text>
<text x="647.6" y="154.5495329516895" font-size="9.8" font-weight="normal" fill="#000" stroke="#000" stroke-width="0.04" text-anchor="start" textLength="11.3" lengthAdjust="spacingAndGlyphs" >80</text>
<text x="647.6" y="160.56710466255666" font-size="9.8" font-weight="normal" fill="#000" stroke="#000" stroke-width="0.04" text-anchor="start" textLength="11.3" lengthAdjust="spacingAndGlyphs" >75</text>
<text x="647.6" y="167.0" font-size="9.8" font-weight="normal" fill="#000" stroke="#000" stroke-width="0.04" text-anchor="start" textLength="11.3" lengthAdjust="spacingAndGlyphs" >70</text>
<text x="647.6" y="173.90982732361303" font-size="9.8" font-weight="normal" fill="#000" stroke="#000" stroke-width="0.04" text-anchor="start" textLength="11.3" lengthAdjust="spacingAndGlyphs" >65</text>
<text x="647.6" y="181.37300938709356" font-size="9.8" font-weight="normal" fill="#000" stroke="#000" stroke-width="0.04" text-anchor="start" textLength="11.3" lengthAdjust="spacingAndGlyphs" >60</text>
<text x="647.6" y="189.48595017760664" font-size="9.8" font-weight="normal" fill="#000" stroke="#000" stroke-width="0.04" text-anchor="start" textLength="11.3" lengthAdjust="spacingAndGlyphs" >55</text>
<text x="647.6" y="198.3726713425619" font-size="9.8" font-weight="normal" fill="#000" stroke="#000" stroke-width="0.04" text-anchor="start" textLength="11.3" lengthAdjust="spacingAndGlyphs" >50</text>
<text x="647.6" y="208.1964858224976" font-size="9.8" font-weight="normal" fill="#000" stroke="#000" stroke-width="0.04" text-anchor="start" textLength="11.3" lengthAdjust="spacingAndGlyphs" >45</text>
<text x="647.6" y="231.62904311540927" font-size="9.8" font-weight="normal" fill="#000" stroke="#000" stroke-width="0.04" text-anchor="start" textLength="11.3" lengthAdjust="spacingAndGlyphs" >35</text>
<text x="647.6" y="263.00171445797116" font-size="9.8" font-weight="normal" fill="#000" stroke="#000" stroke-width="0.04" text-anchor="start" textLength="11.3" lengthAdjust="spacingAndGlyphs" >25</text>
<text x="647.6" y="310.0" font-size="9.8" font-weight="normal" fill="#000" stroke="#000" stroke-width="0.04" text-anchor="start" textLength="11.3" lengthAdjust="spacingAndGlyphs" >15</text>
<text x="647.6" y="347.2" font-size="9.8" font-weight="normal" fill="#000" stroke="#000" stroke-width="0.04" text-anchor="start" textLength="11.3" lengthAdjust="spacingAndGlyphs" >10</text>
<text x="653.5" y="409.5" font-size="9.8" font-weight="normal" fill="#000" stroke="#000" stroke-width="0.04" text-anchor="start" >5</text>
<line x1="644.5" y1="281.5" x2="647.5" y2="281.5" stroke="#ccc" stroke-width="1"/>
<line x1="644.5" y1="260.5" x2="647.5" y2="260.5" stroke="#ccc" stroke-width="1"/>
<line x1="644.5" y1="243.5" x2="647.5" y2="243.5" stroke="#ccc" stroke-width="1"/>
<line x1="644.5" y1="228.5" x2="647.5" y2="228.5" stroke="#ccc" stroke-width="1"/>
<line x1="644.5" y1="216.5" x2="647.5" y2="216.5" stroke="#ccc" stroke-width="1"/>
<line x1="644.5" y1="205.5" x2="647.5" y2="205.5" stroke="#ccc" stroke-width="1"/>
<line x1="644.5" y1="195.5" x2="647.5" y2="195.5" stroke="#ccc" stroke-width="1"/>
<line x1="644.5" y1="186.5" x2="647.5" y2="186.5" stroke="#ccc" stroke-width="1"/>
<line x1="644.5" y1="178.5" x2="647.5" y2="178.5" stroke="#ccc" stroke-width="1"/>
<line x1="644.5" y1="171.5" x2="647.5" y2="171.5" stroke="#ccc" stroke-width="1"/>
<line x1="644.5" y1="164.5" x2="647.5" y2="164.5" stroke="#ccc" stroke-width="1"/>
<line x1="644.5" y1="157.5" x2="647.5" y2="157.5" stroke="#ccc" stroke-width="1"/>
<line x1="644.5" y1="151.5" x2="647.5" y2="151.5" stroke="#ccc" stroke-width="1"/>
<line x1="644.5" y1="146.5" x2="647.5" y2="146.5" stroke="#ccc" stroke-width="1"/>
<line x1="644.5" y1="307.5" x2="647.5" y2="307.5" stroke="#ccc" stroke-width="1"/>
<line x1="644.5" y1="344.5" x2="647.5" y2="344.5" stroke="#ccc" stroke-width="1"/>
<line x1="644.5" y1="407.5" x2="647.5" y2="407.5" stroke="#ccc" stroke-width="1"/>
<line x1="645.0" y1="393.5" x2="646.5" y2="393.5" stroke="#ddd" stroke-width="1"/>
<line x1="645.0" y1="378.5" x2="646.5" y2="378.5" stroke="#ddd" stroke-width="1"/>
<line x1="645.0" y1="366.5" x2="646.5" y2="366.5" stroke="#ddd" stroke-width="1"/>
<line x1="645.0" y1="355.5" x2="646.5" y2="355.5" stroke="#ddd" stroke-width="1"/>
<line x1="645.0" y1="336.5" x2="646.5" y2="336.5" stroke="#ddd" stroke-width="1"/>
<line x1="645.0" y1="328.5" x2="646.5" y2="328.5" stroke="#ddd" stroke-width="1"/>
<line x1="645.0" y1="321.5" x2="646.5" y2="321.5" stroke="#ddd" stroke-width="1"/>
<line x1="645.0" y1="314.5" x2="646.5" y2="314.5" stroke="#ddd" stroke-width="1"/>
<line x1="645.0" y1="301.5" x2="646.5" y2="301.5" stroke="#ddd" stroke-width="1"/>
<line x1="645.0" y1="296.5" x2="646.5" y2="296.5" stroke="#ddd" stroke-width="1"/>
<line x1="645.0" y1="290.5" x2="646.5" y2="290.5" stroke="#ddd" stroke-width="1"/>
<line x1="645.0" y1="285.5" x2="646.5" y2="285.5" stroke="#ddd" stroke-width="1"/>
<line x1="645.0" y1="276.5" x2="646.5" y2="276.5" stroke="#ddd" stroke-width="1"/>
<line x1="645.0" y1="272.5" x2="646.5" y2="272.5" stroke="#ddd" stroke-width="1"/>
<line x1="645.0" y1="268.5" x2="646.5" y2="268.5" stroke="#ddd" stroke-width="1"/>
<line x1="645.0" y1="264.5" x2="646.5" y2="264.5" stroke="#ddd" stroke-width="1"/>
<line x1="645.0" y1="256.5" x2="646.5" y2="256.5" stroke="#ddd" stroke-width="1"/>
<line x1="645.0" y1="253.5" x2="646.5" y2="253.5" stroke="#ddd" stroke-width="1"/>
<line x1="645.0" y1="249.5" x2="646.5" y2="249.5" stroke="#ddd" stroke-width="1"/>
<line x1="645.0" y1="246.5" x2="646.5" y2="246.5" stroke="#ddd" stroke-width="1"/>
<line x1="645.0" y1="240.5" x2="646.5" y2="240.5" stroke="#ddd" stroke-width="1"/>
<line x1="645.0" y1="237.5" x2="646.5" y2="237.5" stroke="#ddd" stroke-width="1"/>
<line x1="645.0" y1="234.5" x2="646.5" y2="234.5" stroke="#ddd" stroke-width="1"/>
<line x1="645.0" y1="231.5" x2="646.5" y2="231.5" stroke="#ddd" stroke-width="1"/>
<line x1="645.0" y1="226.5" x2="646.5" y2="226.5" stroke="#ddd" stroke-width="1"/>
<line x1="645.0" y1="223.5" x2="646.5" y2="223.5" stroke="#ddd" stroke-width="1"/>
<line x1="645.0" y1="221.5" x2="646.5" y2="221.5" stroke="#ddd" stroke-width="1"/>
<line x1="645.0" y1="218.5" x2="646.5" y2="218.5" stroke="#ddd" stroke-width="1"/>
<line x1="645.0" y1="214.5" x2="646.5" y2="214.5" stroke="#ddd" stroke-width="1"/>
<line x1="645.0" y1="211.5" x2="646.5" y2="211.5" stroke="#ddd" stroke-width="1"/>
<line x1="645.0" y1="209.5" x2="646.5" y2="209.5" stroke="#ddd" stroke-width="1"/>
<line x1="645.0" y1="207.5" x2="646.5" y2="207.5" stroke="#ddd" stroke-width="1"/>
<line x1="645.0" y1="203.5" x2="646.5" y2="203.5" stroke="#ddd" stroke-width="1"/>
<line x1="645.0" y1="201.5" x2="646.5" y2="201.5" stroke="#ddd" stroke-width="1"/>
<line x1="645.0" y1="199.5" x2="646.5" y2="199.5" stroke="#ddd" stroke-width="1"/>
<line x1="645.0" y1="197.5" x2="646.5" y2="197.5" stroke="#ddd" stroke-width="1"/>
<line x1="645.0" y1="193.5" x2="646.5" y2="193.5" stroke="#ddd" stroke-width="1"/>
<line x1="645.0" y1="192.5" x2="646.5" y2="192.5" stroke="#ddd" stroke-width="1"/>
<line x1="645.0" y1="190.5" x2="646.5" y2="190.5" stroke="#ddd" stroke-width="1"/>
<line x1="645.0" y1="188.5" x2="646.5" y2="188.5" stroke="#ddd" stroke-width="1"/>
<line x1="645.0" y1="185.5" x2="646.5" y2="185.5" stroke="#ddd" stroke-width="1"/>
<line x1="645.0" y1="183.5" x2="646.5" y2="183.5" stroke="#ddd" stroke-width="1"/>
<line x1="645.0" y1="181.5" x2="646.5" y2="181.5" stroke="#ddd" stroke-width="1"/>
<line x1="645.0" y1="180.5" x2="646.5" y2="180.5" stroke="#ddd" stroke-width="1"/>
<line x1="645.0" y1="177.5" x2="646.5" y2="177.5" stroke="#ddd" stroke-width="1"/>
<line x1="645.0" y1="175.5" x2="646.5" y2="175.5" stroke="#ddd" stroke-width="1"/>
<line x1="645.0" y1="174.5" x2="646.5" y2="174.5" stroke="#ddd" stroke-width="1"/>
<line x1="645.0" y1="172.5" x2="646.5" y2="172.5" stroke="#ddd" stroke-width="1"/>
<line x1="645.0" y1="169.5" x2="646.5" y2="169.5" stroke="#ddd" stroke-width="1"/>
<line x1="645.0" y1="168.5" x2="646.5" y2="168.5" stroke="#ddd" stroke-width="1"/>
<line x1="645.0" y1="167.5" x2="646.5" y2="167.5" stroke="#ddd" stroke-width="1"/>
<line x1="645.0" y1="165.5" x2="646.5" y2="165.5" stroke="#ddd" stroke-width="1"/>
<line x1="645.0" y1="162.5" x2="646.5" y2="162.5" stroke="#ddd" stroke-width="1"/>
<line x1="645.0" y1="161.5" x2="646.5" y2="161.5" stroke="#ddd" stroke-width="1"/>
<line x1="645.0" y1="160.5" x2="646.5" y2="160.5" stroke="#ddd" stroke-width="1"/>
<line x1="645.0" y1="159.5" x2="646.5" y2="159.5" stroke="#ddd" stroke-width="1"/>
<line x1="645.0" y1="156.5" x2="646.5" y2="156.5" stroke="#ddd" stroke-width="1"/>
<line x1="645.0" y1="155.5" x2="646.5" y2="155.5" stroke="#ddd" stroke-width="1"/>
<line x1="645.0" y1="154.5" x2="646.5" y2="154.5" stroke="#ddd" stroke-width="1"/>
<line x1="645.0" y1="153.5" x2="646.5" y2="153.5" stroke="#ddd" stroke-width="1"/>
<line x1="645.0" y1="150.5" x2="646.5" y2="150.5" stroke="#ddd" stroke-width="1"/>
<line x1="645.0" y1="149.5" x2="646.5" y2="149.5" stroke="#ddd" stroke-width="1"/>
<line x1="645.0" y1="148.5" x2="646.5" y2="148.5" stroke="#ddd" stroke-width="1"/>
<line x1="645.0" y1="147.5" x2="646.5" y2="147.5" stroke="#ddd" stroke-width="1"/>
<polygon points="643,214.5 647,209.7 675.5,209.7 675.5,219.3 647,219.3" fill="#fff" stroke="#0000aa" stroke-width="1.3"/>
<text x="647.6" y="218.028" font-size="9.8" font-weight="normal" fill="#000" stroke="#000" stroke-width="0.04" text-anchor="start" textLength="25.5" lengthAdjust="spacingAndGlyphs" >40.30</text>
<polygon points="642,243.2 646.5,238.2 675.5,238.2 675.5,248.2 646.5,248.2" fill="#fff" stroke="#000" stroke-width="1.3"/>
<text x="647.1" y="246.908" font-size="10.3" font-weight="bold" fill="#000" stroke="#000" stroke-width="0.04" text-anchor="start" textLength="26.5" lengthAdjust="spacingAndGlyphs" >30.00</text>
<polygon points="642.5,278.8 646.5,273.3 690.5,273.3 690.5,284.3 646.5,284.3" fill="#fff" stroke="#ff00e0" stroke-width="1.3"/>
<text x="647.1" y="282.50800000000004" font-size="10.3" font-weight="bold" fill="#000" stroke="#000" stroke-width="0.04" text-anchor="start" textLength="41.5" lengthAdjust="spacingAndGlyphs" >139.51%</text>
<text x="46.8" y="421" font-size="9.6" font-weight="normal" fill="#000" stroke="#000" stroke-width="0.04" text-anchor="start" >A</text>
<text x="75.2" y="421" font-size="9.6" font-weight="normal" fill="#000" stroke="#000" stroke-width="0.04" text-anchor="middle" >M</text>
<text x="101.2" y="421" font-size="9.6" font-weight="normal" fill="#000" stroke="#000" stroke-width="0.04" text-anchor="middle" >J</text>
<text x="123.2" y="421" font-size="9.6" font-weight="normal" fill="#000" stroke="#000" stroke-width="0.04" text-anchor="middle" >J</text>
<text x="149.2" y="421" font-size="9.6" font-weight="normal" fill="#000" stroke="#000" stroke-width="0.04" text-anchor="middle" >A</text>
<text x="175.2" y="421" font-size="9.6" font-weight="normal" fill="#000" stroke="#000" stroke-width="0.04" text-anchor="middle" >S</text>
<text x="199.2" y="421" font-size="9.6" font-weight="normal" fill="#000" stroke="#000" stroke-width="0.04" text-anchor="middle" >O</text>
<text x="226.2" y="421" font-size="9.6" font-weight="normal" fill="#000" stroke="#000" stroke-width="0.04" text-anchor="middle" >N</text>
<text x="250.2" y="421" font-size="9.6" font-weight="normal" fill="#000" stroke="#000" stroke-width="0.04" text-anchor="middle" >D</text>
<text x="273.5" y="421" font-size="10" font-weight="bold" fill="#000" stroke="#000" stroke-width="0.04" text-anchor="middle" >25</text>
<text x="298.2" y="421" font-size="9.6" font-weight="normal" fill="#000" stroke="#000" stroke-width="0.04" text-anchor="middle" >F</text>
<text x="321.2" y="421" font-size="9.6" font-weight="normal" fill="#000" stroke="#000" stroke-width="0.04" text-anchor="middle" >M</text>
<text x="346.2" y="421" font-size="9.6" font-weight="normal" fill="#000" stroke="#000" stroke-width="0.04" text-anchor="middle" >A</text>
<text x="370.2" y="421" font-size="9.6" font-weight="normal" fill="#000" stroke="#000" stroke-width="0.04" text-anchor="middle" >M</text>
<text x="395.2" y="421" font-size="9.6" font-weight="normal" fill="#000" stroke="#000" stroke-width="0.04" text-anchor="middle" >J</text>
<text x="419.2" y="421" font-size="9.6" font-weight="normal" fill="#000" stroke="#000" stroke-width="0.04" text-anchor="middle" >J</text>
<text x="445.2" y="421" font-size="9.6" font-weight="normal" fill="#000" stroke="#000" stroke-width="0.04" text-anchor="middle" >A</text>
<text x="470.2" y="421" font-size="9.6" font-weight="normal" fill="#000" stroke="#000" stroke-width="0.04" text-anchor="middle" >S</text>
<text x="495.2" y="421" font-size="9.6" font-weight="normal" fill="#000" stroke="#000" stroke-width="0.04" text-anchor="middle" >O</text>
<text x="522.2" y="421" font-size="9.6" font-weight="normal" fill="#000" stroke="#000" stroke-width="0.04" text-anchor="middle" >N</text>
<text x="544.2" y="421" font-size="9.6" font-weight="normal" fill="#000" stroke="#000" stroke-width="0.04" text-anchor="middle" >D</text>
<text x="568.5" y="421" font-size="10" font-weight="bold" fill="#000" stroke="#000" stroke-width="0.04" text-anchor="middle" >26</text>
<text x="594.2" y="421" font-size="9.6" font-weight="normal" fill="#000" stroke="#000" stroke-width="0.04" text-anchor="middle" >F</text>
<text x="616.2" y="421" font-size="9.6" font-weight="normal" fill="#000" stroke="#000" stroke-width="0.04" text-anchor="middle" >M</text>
<line x1="74.5" y1="424.5" x2="74.5" y2="523.5" stroke="rgba(0,0,0,0.11)" stroke-width="1"/>
<line x1="100.5" y1="424.5" x2="100.5" y2="523.5" stroke="rgba(0,0,0,0.11)" stroke-width="1"/>
<line x1="122.5" y1="424.5" x2="122.5" y2="523.5" stroke="rgba(0,0,0,0.11)" stroke-width="1"/>
<line x1="148.5" y1="424.5" x2="148.5" y2="523.5" stroke="rgba(0,0,0,0.11)" stroke-width="1"/>
<line x1="174.5" y1="424.5" x2="174.5" y2="523.5" stroke="rgba(0,0,0,0.11)" stroke-width="1"/>
<line x1="198.5" y1="424.5" x2="198.5" y2="523.5" stroke="rgba(0,0,0,0.11)" stroke-width="1"/>
<line x1="225.5" y1="424.5" x2="225.5" y2="523.5" stroke="rgba(0,0,0,0.11)" stroke-width="1"/>
<line x1="249.5" y1="424.5" x2="249.5" y2="523.5" stroke="rgba(0,0,0,0.11)" stroke-width="1"/>
<line x1="274.5" y1="424.5" x2="274.5" y2="523.5" stroke="rgba(0,0,0,0.22)" stroke-width="1"/>
<line x1="297.5" y1="424.5" x2="297.5" y2="523.5" stroke="rgba(0,0,0,0.11)" stroke-width="1"/>
<line x1="320.5" y1="424.5" x2="320.5" y2="523.5" stroke="rgba(0,0,0,0.11)" stroke-width="1"/>
<line x1="345.5" y1="424.5" x2="345.5" y2="523.5" stroke="rgba(0,0,0,0.11)" stroke-width="1"/>
<line x1="369.5" y1="424.5" x2="369.5" y2="523.5" stroke="rgba(0,0,0,0.11)" stroke-width="1"/>
<line x1="394.5" y1="424.5" x2="394.5" y2="523.5" stroke="rgba(0,0,0,0.11)" stroke-width="1"/>
<line x1="418.5" y1="424.5" x2="418.5" y2="523.5" stroke="rgba(0,0,0,0.11)" stroke-width="1"/>
<line x1="444.5" y1="424.5" x2="444.5" y2="523.5" stroke="rgba(0,0,0,0.11)" stroke-width="1"/>
<line x1="469.5" y1="424.5" x2="469.5" y2="523.5" stroke="rgba(0,0,0,0.11)" stroke-width="1"/>
<line x1="494.5" y1="424.5" x2="494.5" y2="523.5" stroke="rgba(0,0,0,0.11)" stroke-width="1"/>
<line x1="521.5" y1="424.5" x2="521.5" y2="523.5" stroke="rgba(0,0,0,0.11)" stroke-width="1"/>
<line x1="543.5" y1="424.5" x2="543.5" y2="523.5" stroke="rgba(0,0,0,0.11)" stroke-width="1"/>
<line x1="569.5" y1="424.5" x2="569.5" y2="523.5" stroke="rgba(0,0,0,0.22)" stroke-width="1"/>
<line x1="593.5" y1="424.5" x2="593.5" y2="523.5" stroke="rgba(0,0,0,0.11)" stroke-width="1"/>
<line x1="615.5" y1="424.5" x2="615.5" y2="523.5" stroke="rgba(0,0,0,0.11)" stroke-width="1"/>
<line x1="46.5" y1="430.5" x2="644.5" y2="430.5" stroke="rgba(0,0,0,0.11)" stroke-width="1"/>
<line x1="46.5" y1="444.5" x2="644.5" y2="444.5" stroke="rgba(0,0,0,0.11)" stroke-width="1"/>
<line x1="46.5" y1="457.5" x2="644.5" y2="457.5" stroke="rgba(0,0,0,0.11)" stroke-width="1"/>
<line x1="46.5" y1="471.5" x2="644.5" y2="471.5" stroke="rgba(0,0,0,0.11)" stroke-width="1"/>
<line x1="46.5" y1="498.5" x2="644.5" y2="498.5" stroke="rgba(0,0,0,0.11)" stroke-width="1"/>
<line x1="46.5" y1="511.5" x2="644.5" y2="511.5" stroke="rgba(0,0,0,0.11)" stroke-width="1"/>
<line x1="46.5" y1="484.5" x2="646.5" y2="484.5" stroke="#555" stroke-width="1"/>
<polygon points="47.1,523.0 47.1,484.3 48.6,482.1 50.4,483.6 52.1,482.8 53.9,484.3 55.8,482.1 57.4,480.6 59.1,483.2 60.9,484.3 62.4,488.7 63.9,492.0 65.3,495.3 66.8,492.0 68.3,487.6 70.1,484.3 71.8,485.0 73.1,483.2 74.5,488.7 76.2,486.5 77.7,485.4 79.3,484.3 81.0,486.5 82.8,485.4 84.5,484.3 85.8,482.1 87.6,482.8 89.3,479.3 90.9,479.9 92.4,476.6 93.7,473.4 95.3,469.6 96.8,470.5 98.5,473.4 100.3,474.4 101.8,469.6 103.4,468.3 104.7,470.1 106.2,468.3 107.7,465.7 109.5,461.3 111.2,460.2 113.0,457.4 114.3,460.2 115.6,463.5 117.2,466.8 118.2,469.6 120.0,467.4 121.8,466.8 123.1,465.7 124.8,463.5 126.6,460.9 128.3,458.7 130.1,457.4 131.4,460.2 132.7,461.3 134.0,464.6 134.9,470.1 136.2,475.6 138.0,473.4 139.7,471.8 141.7,477.9 143.2,482.1 145.4,483.9 146.9,478.9 148.1,486.4 149.6,491.8 151.8,490.7 153.3,493.9 154.6,488.6 156.7,488.1 158.2,484.3 159.7,481.1 161.4,479.6 163.6,478.3 165.3,477.9 166.8,481.1 168.3,480.0 170.0,483.2 172.1,484.3 173.9,483.2 174.7,491.8 176.9,492.9 178.6,496.1 180.3,493.9 181.8,489.0 183.9,488.1 185.4,489.6 187.1,488.6 188.9,489.6 190.4,486.4 191.9,487.5 193.6,483.9 195.3,481.7 196.8,485.4 198.3,489.0 200.0,486.9 201.7,485.4 203.4,483.9 205.4,482.6 206.9,483.2 208.6,482.1 209.9,481.7 211.1,488.1 212.9,488.6 214.6,486.9 216.3,487.5 218.2,485.4 219.7,483.9 221.4,482.1 222.7,481.7 224.0,487.5 225.3,490.3 227.0,489.0 228.7,488.1 230.4,486.9 232.1,490.7 233.4,493.9 234.7,492.9 236.4,496.1 238.1,495.0 239.9,495.4 241.6,495.0 243.3,496.7 245.0,498.9 246.3,499.7 247.6,501.4 248.9,498.2 250.4,495.4 251.9,496.1 253.6,495.0 255.3,495.4 256.8,497.1 258.3,493.9 259.6,491.8 261.1,488.6 262.6,490.7 263.9,492.9 265.4,491.1 266.9,489.6 268.6,489.0 270.3,489.6 271.8,489.0 273.3,490.7 275.0,485.4 276.3,483.2 277.6,485.4 279.3,487.5 280.0,488.1 282.1,489.0 284.3,486.9 286.4,485.4 288.6,484.3 289.9,487.5 291.1,499.3 292.9,501.0 295.0,498.2 297.1,496.1 299.3,496.7 301.4,495.0 304.0,494.6 306.1,493.9 308.3,491.8 310.4,489.0 312.6,488.1 314.3,491.8 315.6,496.1 316.9,495.0 318.1,501.0 319.9,501.9 321.1,500.4 322.4,502.5 323.7,504.0 325.0,501.4 326.7,503.1 328.4,501.0 330.1,498.2 331.9,497.1 333.6,497.6 335.3,498.2 337.0,499.7 338.7,498.9 340.4,502.5 342.1,505.3 343.9,507.9 345.6,508.3 346.9,506.8 348.1,514.3 349.4,516.0 350.7,514.3 352.0,505.3 352.9,512.1 354.6,511.7 356.3,511.1 358.0,513.2 359.7,512.6 361.4,511.1 363.1,506.8 364.9,503.6 366.6,505.3 368.3,506.1 370.0,504.6 371.7,504.0 373.4,503.6 375.1,502.5 376.9,501.4 378.1,495.0 379.4,490.3 380.7,491.1 382.4,493.3 384.1,494.6 385.9,495.0 387.6,495.4 389.3,494.6 391.0,493.9 392.7,495.0 394.4,491.8 396.1,489.6 397.9,489.0 399.6,488.1 401.3,485.4 403.0,484.7 404.7,486.0 406.4,483.9 408.1,483.2 409.9,483.9 411.6,481.1 413.3,479.6 415.0,481.1 416.7,482.1 418.4,483.2 420.0,483.2 421.7,481.1 423.4,479.6 425.1,478.9 426.9,478.3 428.6,477.4 430.3,478.3 432.0,477.9 433.7,478.9 435.4,481.7 437.1,482.1 438.9,480.0 440.6,478.3 442.3,477.4 444.0,480.4 445.7,480.0 447.4,482.1 449.1,478.9 450.9,476.8 452.6,476.1 454.3,476.1 456.0,478.3 457.7,480.0 459.4,482.1 461.1,481.7 462.9,479.6 464.6,478.9 466.3,480.0 468.0,483.9 469.7,484.3 471.4,483.2 473.1,480.0 474.9,478.9 476.6,476.8 478.3,475.7 480.0,474.6 481.7,474.0 483.0,471.0 484.7,471.4 486.4,470.6 488.1,470.4 489.9,470.6 491.6,469.7 493.3,467.1 495.0,463.9 496.7,462.9 498.0,461.8 499.3,459.0 501.0,458.6 502.3,461.8 503.6,465.0 504.9,460.7 506.6,458.1 508.3,457.5 510.0,459.6 511.7,461.1 513.4,458.6 515.1,455.4 516.9,452.1 518.6,452.6 520.3,451.1 522.0,453.9 523.7,453.2 525.0,456.4 526.7,454.3 528.4,459.6 530.1,461.1 531.9,461.8 533.6,462.9 535.3,461.8 537.0,468.2 538.7,462.9 540.4,460.3 542.1,457.5 543.9,454.3 545.6,453.2 547.3,452.1 549.0,450.4 550.0,450.0 551.7,448.9 553.0,450.0 554.3,457.5 556.0,460.7 557.5,466.1 559.0,461.8 560.7,458.1 562.4,457.5 564.6,457.5 566.7,457.5 568.2,458.1 569.7,453.2 571.4,451.7 573.1,450.0 574.4,453.2 575.7,450.0 577.4,448.3 579.1,446.8 580.9,443.6 582.6,441.0 583.9,440.4 585.1,441.4 586.4,444.6 587.7,439.3 589.0,435.0 590.7,434.6 592.0,438.2 593.3,441.4 594.6,450.0 595.9,451.1 597.1,446.8 598.9,442.5 600.6,439.7 602.3,440.4 604.0,439.3 605.7,438.9 607.4,437.6 609.1,435.4 610.9,433.9 612.6,432.4 613.9,437.1 615.1,436.7 616.4,441.4 617.7,444.0 619.0,442.5 620.3,445.7 621.6,441.4 622.9,439.3 624.6,437.1 626.3,439.7 628.0,438.2 629.7,435.4 631.4,432.9 633.1,434.6 634.4,431.8 635.7,431.1 637.0,436.1 638.3,439.7 639.6,444.6 640.0,446.8 640.0,523.0" fill="rgba(245,110,30,0.8)" stroke="none"/>
<polyline points="47.1,484.3 48.6,482.1 50.4,483.6 52.1,482.8 53.9,484.3 55.8,482.1 57.4,480.6 59.1,483.2 60.9,484.3 62.4,488.7 63.9,492.0 65.3,495.3 66.8,492.0 68.3,487.6 70.1,484.3 71.8,485.0 73.1,483.2 74.5,488.7 76.2,486.5 77.7,485.4 79.3,484.3 81.0,486.5 82.8,485.4 84.5,484.3 85.8,482.1 87.6,482.8 89.3,479.3 90.9,479.9 92.4,476.6 93.7,473.4 95.3,469.6 96.8,470.5 98.5,473.4 100.3,474.4 101.8,469.6 103.4,468.3 104.7,470.1 106.2,468.3 107.7,465.7 109.5,461.3 111.2,460.2 113.0,457.4 114.3,460.2 115.6,463.5 117.2,466.8 118.2,469.6 120.0,467.4 121.8,466.8 123.1,465.7 124.8,463.5 126.6,460.9 128.3,458.7 130.1,457.4 131.4,460.2 132.7,461.3 134.0,464.6 134.9,470.1 136.2,475.6 138.0,473.4 139.7,471.8 141.7,477.9 143.2,482.1 145.4,483.9 146.9,478.9 148.1,486.4 149.6,491.8 151.8,490.7 153.3,493.9 154.6,488.6 156.7,488.1 158.2,484.3 159.7,481.1 161.4,479.6 163.6,478.3 165.3,477.9 166.8,481.1 168.3,480.0 170.0,483.2 172.1,484.3 173.9,483.2 174.7,491.8 176.9,492.9 178.6,496.1 180.3,493.9 181.8,489.0 183.9,488.1 185.4,489.6 187.1,488.6 188.9,489.6 190.4,486.4 191.9,487.5 193.6,483.9 195.3,481.7 196.8,485.4 198.3,489.0 200.0,486.9 201.7,485.4 203.4,483.9 205.4,482.6 206.9,483.2 208.6,482.1 209.9,481.7 211.1,488.1 212.9,488.6 214.6,486.9 216.3,487.5 218.2,485.4 219.7,483.9 221.4,482.1 222.7,481.7 224.0,487.5 225.3,490.3 227.0,489.0 228.7,488.1 230.4,486.9 232.1,490.7 233.4,493.9 234.7,492.9 236.4,496.1 238.1,495.0 239.9,495.4 241.6,495.0 243.3,496.7 245.0,498.9 246.3,499.7 247.6,501.4 248.9,498.2 250.4,495.4 251.9,496.1 253.6,495.0 255.3,495.4 256.8,497.1 258.3,493.9 259.6,491.8 261.1,488.6 262.6,490.7 263.9,492.9 265.4,491.1 266.9,489.6 268.6,489.0 270.3,489.6 271.8,489.0 273.3,490.7 275.0,485.4 276.3,483.2 277.6,485.4 279.3,487.5 280.0,488.1 282.1,489.0 284.3,486.9 286.4,485.4 288.6,484.3 289.9,487.5 291.1,499.3 292.9,501.0 295.0,498.2 297.1,496.1 299.3,496.7 301.4,495.0 304.0,494.6 306.1,493.9 308.3,491.8 310.4,489.0 312.6,488.1 314.3,491.8 315.6,496.1 316.9,495.0 318.1,501.0 319.9,501.9 321.1,500.4 322.4,502.5 323.7,504.0 325.0,501.4 326.7,503.1 328.4,501.0 330.1,498.2 331.9,497.1 333.6,497.6 335.3,498.2 337.0,499.7 338.7,498.9 340.4,502.5 342.1,505.3 343.9,507.9 345.6,508.3 346.9,506.8 348.1,514.3 349.4,516.0 350.7,514.3 352.0,505.3 352.9,512.1 354.6,511.7 356.3,511.1 358.0,513.2 359.7,512.6 361.4,511.1 363.1,506.8 364.9,503.6 366.6,505.3 368.3,506.1 370.0,504.6 371.7,504.0 373.4,503.6 375.1,502.5 376.9,501.4 378.1,495.0 379.4,490.3 380.7,491.1 382.4,493.3 384.1,494.6 385.9,495.0 387.6,495.4 389.3,494.6 391.0,493.9 392.7,495.0 394.4,491.8 396.1,489.6 397.9,489.0 399.6,488.1 401.3,485.4 403.0,484.7 404.7,486.0 406.4,483.9 408.1,483.2 409.9,483.9 411.6,481.1 413.3,479.6 415.0,481.1 416.7,482.1 418.4,483.2 420.0,483.2 421.7,481.1 423.4,479.6 425.1,478.9 426.9,478.3 428.6,477.4 430.3,478.3 432.0,477.9 433.7,478.9 435.4,481.7 437.1,482.1 438.9,480.0 440.6,478.3 442.3,477.4 444.0,480.4 445.7,480.0 447.4,482.1 449.1,478.9 450.9,476.8 452.6,476.1 454.3,476.1 456.0,478.3 457.7,480.0 459.4,482.1 461.1,481.7 462.9,479.6 464.6,478.9 466.3,480.0 468.0,483.9 469.7,484.3 471.4,483.2 473.1,480.0 474.9,478.9 476.6,476.8 478.3,475.7 480.0,474.6 481.7,474.0 483.0,471.0 484.7,471.4 486.4,470.6 488.1,470.4 489.9,470.6 491.6,469.7 493.3,467.1 495.0,463.9 496.7,462.9 498.0,461.8 499.3,459.0 501.0,458.6 502.3,461.8 503.6,465.0 504.9,460.7 506.6,458.1 508.3,457.5 510.0,459.6 511.7,461.1 513.4,458.6 515.1,455.4 516.9,452.1 518.6,452.6 520.3,451.1 522.0,453.9 523.7,453.2 525.0,456.4 526.7,454.3 528.4,459.6 530.1,461.1 531.9,461.8 533.6,462.9 535.3,461.8 537.0,468.2 538.7,462.9 540.4,460.3 542.1,457.5 543.9,454.3 545.6,453.2 547.3,452.1 549.0,450.4 550.0,450.0 551.7,448.9 553.0,450.0 554.3,457.5 556.0,460.7 557.5,466.1 559.0,461.8 560.7,458.1 562.4,457.5 564.6,457.5 566.7,457.5 568.2,458.1 569.7,453.2 571.4,451.7 573.1,450.0 574.4,453.2 575.7,450.0 577.4,448.3 579.1,446.8 580.9,443.6 582.6,441.0 583.9,440.4 585.1,441.4 586.4,444.6 587.7,439.3 589.0,435.0 590.7,434.6 592.0,438.2 593.3,441.4 594.6,450.0 595.9,451.1 597.1,446.8 598.9,442.5 600.6,439.7 602.3,440.4 604.0,439.3 605.7,438.9 607.4,437.6 609.1,435.4 610.9,433.9 612.6,432.4 613.9,437.1 615.1,436.7 616.4,441.4 617.7,444.0 619.0,442.5 620.3,445.7 621.6,441.4 622.9,439.3 624.6,437.1 626.3,439.7 628.0,438.2 629.7,435.4 631.4,432.9 633.1,434.6 634.4,431.8 635.7,431.1 637.0,436.1 638.3,439.7 639.6,444.6 640.0,446.8" fill="none" stroke="#f07020" stroke-width="1.2" stroke-linejoin="round"/>
<rect x="47" y="425" width="131.5" height="11.5" fill="#fff"/>
<line x1="46.0" y1="424.5" x2="645.0" y2="424.5" stroke="#b4b4b4" stroke-width="1"/>
<line x1="46.0" y1="523.5" x2="645.0" y2="523.5" stroke="#ccc" stroke-width="1"/>
<line x1="46.5" y1="424.0" x2="46.5" y2="524.0" stroke="#bbb" stroke-width="1"/>
<line x1="644.5" y1="424.0" x2="644.5" y2="524.0" stroke="#bbb" stroke-width="1"/>
<polygon points="49.5,434.7 53.2,427.90000000000003 55.5,431.5 57.5,429.5 57.5,434.7" fill="#f68a42" stroke="#f07020" stroke-width="1" stroke-linejoin="round"/>
<text x="61.7" y="435" font-size="9.8" font-weight="normal" fill="#000" stroke="#000" stroke-width="0.04" text-anchor="start" textLength="115.4" lengthAdjust="spacingAndGlyphs" letter-spacing="0.5" >$SOX:$INDU 28.17%</text>
<text x="671.2" y="432.7" font-size="9.4" font-weight="normal" fill="#000" stroke="#000" stroke-width="0.04" text-anchor="end" textLength="20.3" lengthAdjust="spacingAndGlyphs" >40%</text>
<line x1="644.5" y1="430.5" x2="647.5" y2="430.5" stroke="#ccc" stroke-width="1"/>
<text x="671.2" y="459.7" font-size="9.4" font-weight="normal" fill="#000" stroke="#000" stroke-width="0.04" text-anchor="end" textLength="20.3" lengthAdjust="spacingAndGlyphs" >20%</text>
<line x1="644.5" y1="457.5" x2="647.5" y2="457.5" stroke="#ccc" stroke-width="1"/>
<text x="671.2" y="473.2" font-size="9.4" font-weight="normal" fill="#000" stroke="#000" stroke-width="0.04" text-anchor="end" textLength="20.3" lengthAdjust="spacingAndGlyphs" >10%</text>
<line x1="644.5" y1="471.5" x2="647.5" y2="471.5" stroke="#ccc" stroke-width="1"/>
<text x="671.2" y="486.7" font-size="9.4" font-weight="normal" fill="#000" stroke="#000" stroke-width="0.04" text-anchor="end" textLength="13.9" lengthAdjust="spacingAndGlyphs" >0%</text>
<line x1="644.5" y1="484.5" x2="647.5" y2="484.5" stroke="#ccc" stroke-width="1"/>
<text x="671.2" y="500.2" font-size="9.4" font-weight="normal" fill="#000" stroke="#000" stroke-width="0.04" text-anchor="end" textLength="23.6" lengthAdjust="spacingAndGlyphs" >-10%</text>
<line x1="644.5" y1="498.5" x2="647.5" y2="498.5" stroke="#ccc" stroke-width="1"/>
<text x="671.2" y="513.7" font-size="9.4" font-weight="normal" fill="#000" stroke="#000" stroke-width="0.04" text-anchor="end" textLength="23.6" lengthAdjust="spacingAndGlyphs" >-20%</text>
<line x1="644.5" y1="511.5" x2="647.5" y2="511.5" stroke="#ccc" stroke-width="1"/>
<polygon points="642.5,446.2 646,440.8 684.5,440.8 684.5,451.59999999999997 646,451.59999999999997" fill="#fff" stroke="#f07020" stroke-width="1.3"/>
<text x="646.6" y="449.908" font-size="10.3" font-weight="bold" fill="#000" stroke="#000" stroke-width="0.04" text-anchor="start" textLength="35" lengthAdjust="spacingAndGlyphs" >28.17%</text>
<line x1="74.5" y1="523.5" x2="74.5" y2="622.5" stroke="rgba(0,0,0,0.11)" stroke-width="1"/>
<line x1="100.5" y1="523.5" x2="100.5" y2="622.5" stroke="rgba(0,0,0,0.11)" stroke-width="1"/>
<line x1="122.5" y1="523.5" x2="122.5" y2="622.5" stroke="rgba(0,0,0,0.11)" stroke-width="1"/>
<line x1="148.5" y1="523.5" x2="148.5" y2="622.5" stroke="rgba(0,0,0,0.11)" stroke-width="1"/>
<line x1="174.5" y1="523.5" x2="174.5" y2="622.5" stroke="rgba(0,0,0,0.11)" stroke-width="1"/>
<line x1="198.5" y1="523.5" x2="198.5" y2="622.5" stroke="rgba(0,0,0,0.11)" stroke-width="1"/>
<line x1="225.5" y1="523.5" x2="225.5" y2="622.5" stroke="rgba(0,0,0,0.11)" stroke-width="1"/>
<line x1="249.5" y1="523.5" x2="249.5" y2="622.5" stroke="rgba(0,0,0,0.11)" stroke-width="1"/>
<line x1="274.5" y1="523.5" x2="274.5" y2="622.5" stroke="rgba(0,0,0,0.22)" stroke-width="1"/>
<line x1="297.5" y1="523.5" x2="297.5" y2="622.5" stroke="rgba(0,0,0,0.11)" stroke-width="1"/>
<line x1="320.5" y1="523.5" x2="320.5" y2="622.5" stroke="rgba(0,0,0,0.11)" stroke-width="1"/>
<line x1="345.5" y1="523.5" x2="345.5" y2="622.5" stroke="rgba(0,0,0,0.11)" stroke-width="1"/>
<line x1="369.5" y1="523.5" x2="369.5" y2="622.5" stroke="rgba(0,0,0,0.11)" stroke-width="1"/>
<line x1="394.5" y1="523.5" x2="394.5" y2="622.5" stroke="rgba(0,0,0,0.11)" stroke-width="1"/>
<line x1="418.5" y1="523.5" x2="418.5" y2="622.5" stroke="rgba(0,0,0,0.11)" stroke-width="1"/>
<line x1="444.5" y1="523.5" x2="444.5" y2="622.5" stroke="rgba(0,0,0,0.11)" stroke-width="1"/>
<line x1="469.5" y1="523.5" x2="469.5" y2="622.5" stroke="rgba(0,0,0,0.11)" stroke-width="1"/>
<line x1="494.5" y1="523.5" x2="494.5" y2="622.5" stroke="rgba(0,0,0,0.11)" stroke-width="1"/>
<line x1="521.5" y1="523.5" x2="521.5" y2="622.5" stroke="rgba(0,0,0,0.11)" stroke-width="1"/>
<line x1="543.5" y1="523.5" x2="543.5" y2="622.5" stroke="rgba(0,0,0,0.11)" stroke-width="1"/>
<line x1="569.5" y1="523.5" x2="569.5" y2="622.5" stroke="rgba(0,0,0,0.22)" stroke-width="1"/>
<line x1="593.5" y1="523.5" x2="593.5" y2="622.5" stroke="rgba(0,0,0,0.11)" stroke-width="1"/>
<line x1="615.5" y1="523.5" x2="615.5" y2="622.5" stroke="rgba(0,0,0,0.11)" stroke-width="1"/>
<line x1="46.5" y1="541.5" x2="644.5" y2="541.5" stroke="rgba(0,0,0,0.11)" stroke-width="1"/>
<line x1="46.5" y1="577.5" x2="644.5" y2="577.5" stroke="rgba(0,0,0,0.11)" stroke-width="1"/>
<line x1="46.5" y1="595.5" x2="644.5" y2="595.5" stroke="rgba(0,0,0,0.11)" stroke-width="1"/>
<line x1="46.5" y1="612.5" x2="644.5" y2="612.5" stroke="rgba(0,0,0,0.11)" stroke-width="1"/>
<line x1="46.5" y1="559.5" x2="646.5" y2="559.5" stroke="#555" stroke-width="1"/>
<polyline points="47.6,558.6 49.7,559.6 51.9,561.8 54.0,562.4 56.1,563.9 58.3,567.1 60.0,570.4 61.7,576.8 63.4,581.1 65.1,583.9 66.9,585.4 69.0,586.0 71.1,584.7 73.7,584.3 75.4,582.1 77.1,578.9 78.9,575.3 81.0,571.4 83.1,568.2 85.3,565.4 87.0,561.8 88.7,558.6 90.4,557.5 92.6,557.5 94.3,559.0 96.0,561.8 97.7,563.3 99.9,563.9 102.0,565.4 104.1,566.1 106.3,568.9 108.4,571.0 110.6,573.6 112.7,576.8 114.9,579.6 117.0,581.1 119.1,582.6 121.3,583.2 123.4,583.9 125.6,583.2 127.7,581.7 129.9,580.4 131.1,576.8 132.4,571.4 133.7,566.1 135.0,562.9 137.1,560.7 139.3,559.0 140.0,559.0 142.1,558.1 144.3,556.0 146.4,554.7 148.1,554.3 149.9,557.5 151.6,562.9 153.3,568.2 155.4,570.4 157.6,572.5 159.7,573.1 161.9,570.4 164.0,566.7 166.1,562.9 168.3,560.3 170.4,558.1 172.6,556.9 174.3,558.1 176.4,559.6 178.6,562.9 180.7,564.6 182.9,565.0 185.0,562.9 187.1,559.6 189.3,556.9 191.4,555.4 193.6,554.7 195.7,554.7 197.4,553.9 199.1,555.4 201.3,556.9 203.0,557.5 204.7,560.3 206.9,562.4 209.0,561.8 211.1,560.3 213.3,558.1 215.4,558.1 217.1,560.3 219.3,561.1 221.4,561.8 223.6,563.9 225.7,566.7 227.9,567.1 230.0,565.0 232.1,561.8 234.3,561.8 236.4,564.6 238.6,568.2 240.7,571.0 242.4,571.4 244.6,568.9 246.7,566.1 248.9,562.4 250.6,559.6 252.7,559.0 254.9,559.0 256.6,558.6 258.3,559.6 260.0,561.8 262.1,565.0 263.9,570.4 265.6,574.6 267.7,576.8 269.9,576.1 272.0,577.9 274.1,578.9 276.3,577.4 278.4,578.3 280.0,580.0 282.1,583.9 284.3,582.1 286.4,580.4 288.6,576.8 290.7,573.1 292.9,571.4 295.0,570.4 297.1,569.7 299.3,569.7 301.4,567.6 303.6,567.1 305.7,567.6 307.9,567.1 310.0,565.4 312.1,565.4 313.9,568.2 315.6,572.5 317.3,576.1 319.0,577.9 320.7,582.1 322.9,585.4 325.0,588.6 327.1,592.9 329.3,596.1 331.0,597.1 333.1,595.4 335.3,593.9 337.4,591.8 339.6,591.1 341.3,591.8 343.4,595.0 345.6,596.7 347.7,599.3 349.4,604.6 351.1,608.9 352.9,612.6 354.6,614.9 356.7,614.3 358.9,613.2 360.6,611.7 362.3,606.8 364.0,602.5 365.7,595.0 367.4,587.5 369.1,581.1 371.3,576.1 373.4,571.4 375.6,566.7 377.7,563.9 379.4,558.1 381.1,554.3 382.9,551.1 385.0,548.5 387.1,548.3 389.3,549.1 391.4,549.6 393.6,550.4 395.7,550.4 397.9,549.6 400.0,547.4 402.1,544.6 403.9,544.0 406.0,545.7 408.1,547.4 410.3,548.3 412.4,548.3 414.6,547.4 416.7,546.1 418.9,543.6 420.0,541.4 422.1,539.3 423.9,536.1 425.6,534.6 427.7,535.0 429.4,535.4 431.6,533.9 433.7,532.9 435.9,531.8 437.6,530.7 439.3,530.3 441.0,533.3 442.7,536.1 444.4,540.4 446.1,544.6 448.3,547.9 450.0,551.7 451.7,553.9 453.9,553.2 456.0,553.9 458.1,555.4 460.3,556.9 462.0,558.1 464.1,557.5 466.3,557.5 468.0,556.4 469.7,558.1 471.4,559.0 473.6,558.6 475.7,558.1 477.9,556.4 480.0,555.4 482.1,554.3 484.3,552.6 486.0,551.7 488.1,552.1 489.9,553.9 492.0,554.7 494.1,555.4 496.3,554.3 498.4,553.2 500.6,552.6 502.3,554.3 504.0,555.4 505.7,554.7 507.4,556.0 509.1,555.4 510.9,556.4 512.6,555.4 514.3,554.3 516.0,553.2 517.7,554.3 519.4,556.0 521.1,557.5 522.9,560.7 524.6,563.9 526.3,566.1 528.0,567.1 529.7,567.6 531.4,570.4 533.1,573.6 534.9,577.9 536.6,582.1 537.9,584.3 539.6,585.4 541.3,582.1 543.0,578.3 544.7,576.1 546.4,573.6 548.1,570.4 549.9,567.6 552.1,563.9 554.3,561.1 556.4,561.8 558.6,562.9 560.7,562.4 562.9,561.1 565.0,560.3 566.7,562.9 568.4,565.4 570.1,566.1 572.3,564.6 574.4,562.4 576.6,561.1 578.7,560.3 580.9,558.6 582.6,559.2 584.7,557.5 586.9,556.4 589.0,556.4 591.1,557.5 592.9,559.0 594.6,561.8 596.3,564.6 598.4,565.4 600.6,566.1 602.7,568.2 604.9,569.7 607.0,570.4 609.1,570.4 611.3,570.4 613.4,568.2 615.1,567.1 617.3,567.6 619.4,568.9 621.6,571.4 623.3,574.0 625.0,575.7 626.7,579.6 628.4,582.1 630.6,584.7 632.3,587.5 634.4,589.6 636.6,590.3 638.3,591.8" fill="none" stroke="#000" stroke-width="1.8" stroke-linejoin="round" stroke-linecap="round"/>
<line x1="46.0" y1="523.5" x2="645.0" y2="523.5" stroke="#ccc" stroke-width="1"/>
<line x1="46.0" y1="622.5" x2="645.0" y2="622.5" stroke="#ccc" stroke-width="1"/>
<line x1="46.5" y1="523.0" x2="46.5" y2="623.0" stroke="#bbb" stroke-width="1"/>
<line x1="644.5" y1="523.0" x2="644.5" y2="623.0" stroke="#bbb" stroke-width="1"/>
<rect x="47" y="524" width="167" height="11.5" fill="#fff"/>
<line x1="49.2" y1="530" x2="57.8" y2="530" stroke="#000" stroke-width="2.2"/>
<text x="61.7" y="534" font-size="9.8" font-weight="normal" fill="#000" stroke="#000" stroke-width="0.04" text-anchor="start" textLength="151" lengthAdjust="spacingAndGlyphs" letter-spacing="0.5" >$NASI -4704.98% (27 Mar)</text>
<text x="683" y="543.7" font-size="9.4" font-weight="normal" fill="#000" stroke="#000" stroke-width="0.04" text-anchor="end" textLength="32" lengthAdjust="spacingAndGlyphs" >2500%</text>
<line x1="644.5" y1="541.5" x2="647.5" y2="541.5" stroke="#ccc" stroke-width="1"/>
<text x="683" y="561.7" font-size="9.4" font-weight="normal" fill="#000" stroke="#000" stroke-width="0.04" text-anchor="end" textLength="13.9" lengthAdjust="spacingAndGlyphs" >0%</text>
<line x1="644.5" y1="559.5" x2="647.5" y2="559.5" stroke="#ccc" stroke-width="1"/>
<text x="683" y="579.7" font-size="9.4" font-weight="normal" fill="#000" stroke="#000" stroke-width="0.04" text-anchor="end" textLength="35.4" lengthAdjust="spacingAndGlyphs" >-2500%</text>
<line x1="644.5" y1="577.5" x2="647.5" y2="577.5" stroke="#ccc" stroke-width="1"/>
<text x="683" y="614.9000000000001" font-size="9.4" font-weight="normal" fill="#000" stroke="#000" stroke-width="0.04" text-anchor="end" textLength="35.4" lengthAdjust="spacingAndGlyphs" >-7500%</text>
<line x1="644.5" y1="612.5" x2="647.5" y2="612.5" stroke="#ccc" stroke-width="1"/>
<polygon points="642.5,592 646.5,586.75 698.5,586.75 698.5,597.25 646.5,597.25" fill="#fff" stroke="#000" stroke-width="1.3"/>
<text x="647.1" y="595.708" font-size="10.3" font-weight="bold" fill="#000" stroke="#000" stroke-width="0.04" text-anchor="start" textLength="49" lengthAdjust="spacingAndGlyphs" >-4704.98%</text>
<text x="46.8" y="632.9" font-size="9.6" font-weight="normal" fill="#000" stroke="#000" stroke-width="0.04" text-anchor="start" >A</text>
<text x="75.2" y="632.9" font-size="9.6" font-weight="normal" fill="#000" stroke="#000" stroke-width="0.04" text-anchor="middle" >M</text>
<text x="101.2" y="632.9" font-size="9.6" font-weight="normal" fill="#000" stroke="#000" stroke-width="0.04" text-anchor="middle" >J</text>
<text x="123.2" y="632.9" font-size="9.6" font-weight="normal" fill="#000" stroke="#000" stroke-width="0.04" text-anchor="middle" >J</text>
<text x="149.2" y="632.9" font-size="9.6" font-weight="normal" fill="#000" stroke="#000" stroke-width="0.04" text-anchor="middle" >A</text>
<text x="175.2" y="632.9" font-size="9.6" font-weight="normal" fill="#000" stroke="#000" stroke-width="0.04" text-anchor="middle" >S</text>
<text x="199.2" y="632.9" font-size="9.6" font-weight="normal" fill="#000" stroke="#000" stroke-width="0.04" text-anchor="middle" >O</text>
<text x="226.2" y="632.9" font-size="9.6" font-weight="normal" fill="#000" stroke="#000" stroke-width="0.04" text-anchor="middle" >N</text>
<text x="250.2" y="632.9" font-size="9.6" font-weight="normal" fill="#000" stroke="#000" stroke-width="0.04" text-anchor="middle" >D</text>
<text x="273.5" y="632.9" font-size="10" font-weight="bold" fill="#000" stroke="#000" stroke-width="0.04" text-anchor="middle" >25</text>
<text x="298.2" y="632.9" font-size="9.6" font-weight="normal" fill="#000" stroke="#000" stroke-width="0.04" text-anchor="middle" >F</text>
<text x="321.2" y="632.9" font-size="9.6" font-weight="normal" fill="#000" stroke="#000" stroke-width="0.04" text-anchor="middle" >M</text>
<text x="346.2" y="632.9" font-size="9.6" font-weight="normal" fill="#000" stroke="#000" stroke-width="0.04" text-anchor="middle" >A</text>
<text x="370.2" y="632.9" font-size="9.6" font-weight="normal" fill="#000" stroke="#000" stroke-width="0.04" text-anchor="middle" >M</text>
<text x="395.2" y="632.9" font-size="9.6" font-weight="normal" fill="#000" stroke="#000" stroke-width="0.04" text-anchor="middle" >J</text>
<text x="419.2" y="632.9" font-size="9.6" font-weight="normal" fill="#000" stroke="#000" stroke-width="0.04" text-anchor="middle" >J</text>
<text x="445.2" y="632.9" font-size="9.6" font-weight="normal" fill="#000" stroke="#000" stroke-width="0.04" text-anchor="middle" >A</text>
<text x="470.2" y="632.9" font-size="9.6" font-weight="normal" fill="#000" stroke="#000" stroke-width="0.04" text-anchor="middle" >S</text>
<text x="495.2" y="632.9" font-size="9.6" font-weight="normal" fill="#000" stroke="#000" stroke-width="0.04" text-anchor="middle" >O</text>
<text x="522.2" y="632.9" font-size="9.6" font-weight="normal" fill="#000" stroke="#000" stroke-width="0.04" text-anchor="middle" >N</text>
<text x="544.2" y="632.9" font-size="9.6" font-weight="normal" fill="#000" stroke="#000" stroke-width="0.04" text-anchor="middle" >D</text>
<text x="568.5" y="632.9" font-size="10" font-weight="bold" fill="#000" stroke="#000" stroke-width="0.04" text-anchor="middle" >26</text>
<text x="594.2" y="632.9" font-size="9.6" font-weight="normal" fill="#000" stroke="#000" stroke-width="0.04" text-anchor="middle" >F</text>
<text x="616.2" y="632.9" font-size="9.6" font-weight="normal" fill="#000" stroke="#000" stroke-width="0.04" text-anchor="middle" >M</text>
</svg>
</body></html>
